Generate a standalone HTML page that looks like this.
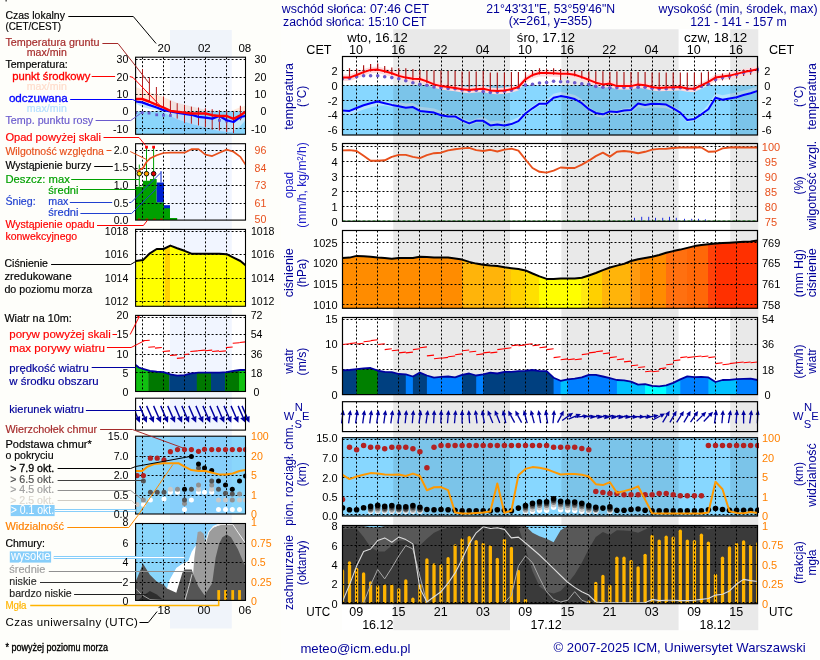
<!DOCTYPE html>
<html><head><meta charset="utf-8"><title>Meteogram</title>
<style>
html,body{margin:0;padding:0;background:#fdfdf6;}
body{width:820px;height:660px;overflow:hidden;}
svg{display:block;will-change:transform;font-family:"Liberation Sans",sans-serif;}
</style></head><body>
<svg width="820" height="660" viewBox="0 0 820 660">
<rect x="0.0" y="0.0" width="820.0" height="660.0" fill="#fefefa" />
<rect x="281.0" y="0.0" width="539.0" height="660.0" fill="#fefefc" />
<rect x="342.0" y="29.0" width="416.3" height="601.3" fill="#ffffff" />
<rect x="342.5" y="85.2" width="415.0" height="49.8" fill="#87d7ff" />
<polygon points="342.5,108.4 349.5,109.9 356.6,107.0 363.6,104.3 370.6,102.2 377.7,100.5 384.7,101.0 391.8,102.7 398.8,102.1 405.8,103.6 412.9,102.9 419.9,106.7 426.9,107.6 434.0,108.4 441.0,111.0 448.1,114.2 455.1,114.2 462.1,118.1 469.2,121.2 476.2,118.6 483.2,117.0 490.3,121.6 497.3,120.8 504.4,121.6 511.4,120.3 518.4,117.3 525.5,111.3 532.5,106.1 539.5,101.5 546.6,99.7 553.6,93.8 560.6,92.1 567.7,93.2 574.7,95.0 581.8,99.2 588.8,107.0 595.8,111.5 602.9,112.8 609.9,109.9 616.9,110.6 624.0,108.4 631.0,107.8 638.1,102.4 645.1,103.7 652.1,102.5 659.2,102.9 666.2,103.4 673.2,106.1 680.3,110.4 687.3,117.8 694.4,116.7 701.4,112.1 708.4,104.6 715.5,93.2 722.5,95.2 729.5,93.8 736.6,92.6 743.6,90.4 750.6,88.7 757.7,86.3 757.7,92.1 750.6,94.5 743.6,96.2 736.6,98.4 729.5,99.6 722.5,101.0 715.5,99.0 708.4,110.4 701.4,116.5 694.4,121.1 687.3,122.2 680.3,114.8 673.2,110.5 666.2,108.2 659.2,107.7 652.1,107.3 645.1,108.5 638.1,107.2 631.0,112.2 624.0,112.8 616.9,115.6 609.9,114.9 602.9,117.8 595.8,116.5 588.8,111.4 581.8,104.4 574.7,100.2 567.7,98.4 560.6,97.3 553.6,99.0 546.6,104.9 539.5,105.9 532.5,110.5 525.5,115.7 518.4,122.6 511.4,125.6 504.4,126.9 497.3,126.1 490.3,126.9 483.2,122.3 476.2,123.0 469.2,125.6 462.1,122.5 455.1,118.6 448.1,118.6 441.0,116.2 434.0,113.6 426.9,112.8 419.9,111.9 412.9,108.1 405.8,108.8 398.8,107.3 391.8,107.1 384.7,105.4 377.7,105.7 370.6,107.4 363.6,109.5 356.6,112.2 349.5,115.1 342.5,112.8" fill="#b6e3fd" />
<rect x="342.5" y="437.7" width="415.0" height="78.3" fill="#87d7ff" />
<rect x="393.2" y="29.2" width="116.8" height="601.0" fill="rgba(0,0,0,0.088)" />
<rect x="561.4" y="29.2" width="117.2" height="601.0" fill="rgba(0,0,0,0.088)" />
<rect x="730.2" y="29.2" width="28.1" height="601.0" fill="rgba(0,0,0,0.088)" />
<clipPath id="cpP"><polygon points="342.5,257.9 349.5,257.6 356.6,255.9 363.6,256.2 370.6,256.7 377.7,257.6 384.7,258.1 391.8,258.8 398.8,258.1 405.8,257.9 412.9,258.1 419.9,256.7 426.9,257.1 434.0,257.6 441.0,257.6 448.1,257.6 455.1,258.4 462.1,259.6 469.2,261.9 476.2,263.6 483.2,264.8 490.3,265.6 497.3,266.1 504.4,267.3 511.4,268.2 518.4,269.0 525.5,270.4 532.5,273.5 539.5,276.4 546.6,278.9 553.6,278.9 560.6,278.6 567.7,278.6 574.7,278.6 581.8,277.7 588.8,275.5 595.8,273.0 602.9,270.1 609.9,267.5 616.9,265.6 624.0,263.9 631.0,261.0 638.1,259.3 645.1,257.9 652.1,256.7 659.2,255.0 666.2,252.8 673.2,251.1 680.3,249.6 687.3,247.9 694.4,246.1 701.4,245.1 708.4,244.3 715.5,243.6 722.5,243.1 729.5,242.7 736.6,242.2 743.6,241.7 750.6,241.4 757.5,240.5 757.5,308.3 342.5,308.3"/></clipPath>
<g clip-path="url(#cpP)">
<rect x="342.5" y="236.0" width="120.1" height="73.0" fill="#ff8c00" />
<rect x="462.0" y="236.0" width="42.6" height="73.0" fill="#ffb40a" />
<rect x="504.0" y="236.0" width="7.6" height="73.0" fill="#ffc208" />
<rect x="511.0" y="236.0" width="14.6" height="73.0" fill="#ffd200" />
<rect x="525.0" y="236.0" width="14.6" height="73.0" fill="#ffe000" />
<rect x="539.0" y="236.0" width="42.6" height="73.0" fill="#ffff00" />
<rect x="581.0" y="236.0" width="8.6" height="73.0" fill="#ffe810" />
<rect x="589.0" y="236.0" width="13.6" height="73.0" fill="#ffd000" />
<rect x="602.0" y="236.0" width="28.6" height="73.0" fill="#ffb40a" />
<rect x="630.0" y="236.0" width="10.6" height="73.0" fill="#ff9a10" />
<rect x="640.0" y="236.0" width="26.6" height="73.0" fill="#ff8c00" />
<rect x="666.0" y="236.0" width="21.6" height="73.0" fill="#ff7010" />
<rect x="687.0" y="236.0" width="21.6" height="73.0" fill="#ff6808" />
<rect x="708.0" y="236.0" width="8.6" height="73.0" fill="#ff4008" />
<rect x="716.0" y="236.0" width="42.1" height="73.0" fill="#ff3000" />
</g>
<polygon points="342.5,370.4 349.5,370.0 356.6,369.2 357.4,369.2 357.4,394.6 342.5,394.6" fill="#004080" />
<polygon points="356.6,369.2 363.6,368.3 370.6,368.0 377.7,370.6 378.5,370.6 378.5,394.6 356.6,394.6" fill="#008000" />
<polygon points="377.7,370.6 384.7,371.8 391.8,372.1 398.8,374.0 405.8,374.3 406.6,374.3 406.6,394.6 377.7,394.6" fill="#004080" />
<polygon points="405.8,374.3 412.9,376.5 413.7,376.5 413.7,394.6 405.8,394.6" fill="#0080ff" />
<polygon points="412.9,376.5 419.9,372.6 426.9,375.5 427.7,375.5 427.7,394.6 412.9,394.6" fill="#004080" />
<polygon points="426.9,375.5 434.0,377.7 441.0,376.9 448.1,376.5 455.1,377.4 462.1,374.8 462.9,374.8 462.9,394.6 426.9,394.6" fill="#0080ff" />
<polygon points="462.1,374.8 469.2,373.5 476.2,375.5 477.0,375.5 477.0,394.6 462.1,394.6" fill="#004080" />
<polygon points="476.2,375.5 483.2,374.3 484.0,374.3 484.0,394.6 476.2,394.6" fill="#0080ff" />
<polygon points="483.2,374.3 490.3,372.6 497.3,373.5 504.4,371.8 511.4,371.8 518.4,371.2 525.5,370.9 532.5,370.0 539.5,371.2 546.6,371.2 553.6,377.7 554.4,377.7 554.4,394.6 483.2,394.6" fill="#004080" />
<polygon points="553.6,377.7 560.6,380.8 561.4,380.8 561.4,394.6 553.6,394.6" fill="#0080ff" />
<polygon points="560.6,380.8 567.7,379.4 568.5,379.4 568.5,394.6 560.6,394.6" fill="#00c0ff" />
<polygon points="567.7,379.4 574.7,378.6 581.8,377.4 588.8,374.8 595.8,374.8 602.9,376.5 609.9,378.2 616.9,380.0 617.7,380.0 617.7,394.6 567.7,394.6" fill="#0080ff" />
<polygon points="616.9,380.0 624.0,380.3 631.0,381.7 638.1,384.6 645.1,384.2 645.9,384.2 645.9,394.6 616.9,394.6" fill="#00c0ff" />
<polygon points="645.1,384.2 652.1,385.9 659.2,386.3 666.2,385.4 667.0,385.4 667.0,394.6 645.1,394.6" fill="#00ffff" />
<polygon points="666.2,385.4 673.2,382.9 680.3,379.4 681.1,379.4 681.1,394.6 666.2,394.6" fill="#00c0ff" />
<polygon points="680.3,379.4 687.3,376.4 694.4,377.2 701.4,376.9 708.4,377.4 709.2,377.4 709.2,394.6 680.3,394.6" fill="#0080ff" />
<polygon points="708.4,377.4 715.5,382.0 722.5,380.0 729.5,379.8 736.6,379.1 737.4,379.1 737.4,394.6 708.4,394.6" fill="#00c0ff" />
<polygon points="736.6,379.1 743.6,378.9 750.6,378.6 757.5,380.0 757.5,380.0 757.5,394.6 736.6,394.6" fill="#0080ff" />
<rect x="342.5" y="525.5" width="415.0" height="78.2" fill="#87d7ff" />
<polygon points="342.5,526.0 349.5,526.0 356.6,526.0 363.6,526.0 370.6,527.2 377.7,527.5 384.7,526.0 391.8,526.0 398.8,526.0 405.8,526.0 412.9,526.0 419.9,526.0 426.9,526.0 434.0,526.0 441.0,526.0 448.1,526.0 455.1,526.0 462.1,526.0 469.2,526.0 476.2,526.0 483.2,526.0 490.3,526.0 497.3,526.0 504.4,526.0 511.4,526.0 518.4,526.0 525.5,526.0 532.5,532.8 539.5,536.2 546.6,538.8 553.6,542.2 560.6,530.2 567.7,526.0 574.7,526.0 581.8,526.0 588.8,526.0 595.8,526.0 602.9,526.0 609.9,526.0 616.9,526.0 624.0,526.0 631.0,526.0 638.1,526.0 645.1,526.0 652.1,526.0 659.2,526.0 666.2,526.0 673.2,526.0 680.3,526.0 687.3,526.0 694.4,526.0 701.4,526.0 708.4,526.0 715.5,526.0 722.5,526.0 729.5,526.0 736.6,526.0 743.6,527.3 750.6,527.3 757.5,526.0 757.5,603.7 342.5,603.7" fill="#585858" />
<polygon points="342.5,529.4 349.5,528.5 356.6,528.5 363.6,537.1 370.6,547.3 377.7,551.6 384.7,551.6 391.8,545.6 398.8,540.5 405.8,540.5 412.9,543.0 419.9,545.6 426.9,538.8 434.0,532.8 441.0,529.4 448.1,527.7 455.1,526.8 462.1,526.8 469.2,526.0 476.2,526.0 483.2,526.0 490.3,526.0 497.3,526.0 504.4,526.0 511.4,526.0 518.4,526.8 525.5,549.0 532.5,571.2 539.5,586.6 546.6,591.7 553.6,593.4 560.6,590.9 567.7,583.2 574.7,574.6 581.8,562.7 588.8,549.0 595.8,537.1 602.9,532.0 609.9,535.0 616.9,530.2 624.0,530.6 631.0,531.1 638.1,532.8 645.1,529.4 652.1,526.0 659.2,526.0 666.2,526.0 673.2,526.0 680.3,526.0 687.3,526.0 694.4,526.0 701.4,526.0 708.4,529.4 715.5,527.7 722.5,526.0 729.5,526.0 736.6,526.0 743.6,526.0 750.6,526.0 757.5,526.0 757.5,603.7 342.5,603.7" fill="#3a3a3a" />
<clipPath id="cp1"><rect x="342.5" y="56.5" width="416.5" height="78.5"/></clipPath>
<g clip-path="url(#cp1)">
<polygon points="342.5,74.6 349.5,74.6 356.6,72.0 363.6,69.1 370.6,66.9 377.7,66.6 384.7,68.3 391.8,70.3 398.8,72.9 405.8,74.6 412.9,75.8 419.9,76.0 426.9,78.4 434.0,81.4 441.0,83.1 448.1,84.0 455.1,84.9 462.1,86.2 469.2,86.9 476.2,86.2 483.2,85.7 490.3,87.4 497.3,87.9 504.4,87.4 511.4,86.2 518.4,84.0 525.5,76.3 532.5,72.0 539.5,70.0 546.6,70.0 553.6,70.3 560.6,70.7 567.7,70.7 574.7,71.7 581.8,74.1 588.8,76.8 595.8,79.7 602.9,81.4 609.9,80.6 616.9,83.1 624.0,83.1 631.0,83.1 638.1,81.4 645.1,82.3 652.1,84.0 659.2,84.9 666.2,84.5 673.2,84.3 680.3,84.0 687.3,85.4 694.4,85.7 701.4,82.3 708.4,78.9 715.5,74.6 722.5,73.4 729.5,72.6 736.6,70.9 743.6,69.1 750.6,67.8 757.7,66.1 757.7,72.5 750.6,74.2 743.6,75.5 736.6,77.3 729.5,79.0 722.5,79.8 715.5,81.0 708.4,85.3 701.4,88.7 694.4,92.1 687.3,91.8 680.3,90.4 673.2,90.7 666.2,90.9 659.2,91.3 652.1,90.4 645.1,88.7 638.1,87.8 631.0,89.5 624.0,89.5 616.9,89.5 609.9,87.0 602.9,87.8 595.8,86.1 588.8,83.2 581.8,80.5 574.7,78.1 567.7,77.1 560.6,77.1 553.6,76.7 546.6,76.4 539.5,76.4 532.5,78.4 525.5,82.7 518.4,90.4 511.4,92.6 504.4,93.8 497.3,94.3 490.3,93.8 483.2,92.1 476.2,92.6 469.2,93.3 462.1,92.6 455.1,91.3 448.1,90.4 441.0,89.5 434.0,87.8 426.9,84.8 419.9,82.4 412.9,82.2 405.8,81.0 398.8,79.3 391.8,76.7 384.7,74.7 377.7,73.0 370.6,73.3 363.6,75.5 356.6,78.4 349.5,81.0 342.5,81.0" fill="#ffdadd" />
</g>
<clipPath id="cp7"><rect x="342.5" y="525.5" width="415.0" height="78.2"/></clipPath>
<g clip-path="url(#cp7)" stroke="#ffb400" stroke-width="3.3" stroke-linecap="round">
<line x1="342.5" y1="571.0" x2="342.5" y2="606.7"/>
<line x1="349.5" y1="563.0" x2="349.5" y2="606.7"/>
<line x1="356.6" y1="569.3" x2="356.6" y2="606.7"/>
<line x1="363.6" y1="573.9" x2="363.6" y2="606.7"/>
<line x1="370.6" y1="583.0" x2="370.6" y2="606.7"/>
<line x1="377.7" y1="586.9" x2="377.7" y2="606.7"/>
<line x1="384.7" y1="586.0" x2="384.7" y2="606.7"/>
<line x1="391.8" y1="586.0" x2="391.8" y2="606.7"/>
<line x1="398.8" y1="589.8" x2="398.8" y2="606.7"/>
<line x1="405.8" y1="580.9" x2="405.8" y2="606.7"/>
<line x1="412.9" y1="599.2" x2="412.9" y2="606.7"/>
<line x1="419.9" y1="585.5" x2="419.9" y2="606.7"/>
<line x1="426.9" y1="559.9" x2="426.9" y2="606.7"/>
<line x1="434.0" y1="565.0" x2="434.0" y2="606.7"/>
<line x1="441.0" y1="565.9" x2="441.0" y2="606.7"/>
<line x1="448.1" y1="558.7" x2="448.1" y2="606.7"/>
<line x1="455.1" y1="545.9" x2="455.1" y2="606.7"/>
<line x1="462.1" y1="539.9" x2="462.1" y2="606.7"/>
<line x1="469.2" y1="537.7" x2="469.2" y2="606.7"/>
<line x1="476.2" y1="541.6" x2="476.2" y2="606.7"/>
<line x1="483.2" y1="544.5" x2="483.2" y2="606.7"/>
<line x1="490.3" y1="546.8" x2="490.3" y2="606.7"/>
<line x1="497.3" y1="559.4" x2="497.3" y2="606.7"/>
<line x1="504.4" y1="540.3" x2="504.4" y2="606.7"/>
<line x1="511.4" y1="548.5" x2="511.4" y2="606.7"/>
<line x1="518.4" y1="571.5" x2="518.4" y2="606.7"/>
<line x1="525.5" y1="600.4" x2="525.5" y2="606.7"/>
<line x1="588.8" y1="602.1" x2="588.8" y2="606.7"/>
<line x1="595.8" y1="583.5" x2="595.8" y2="606.7"/>
<line x1="602.9" y1="576.5" x2="602.9" y2="606.7"/>
<line x1="609.9" y1="586.4" x2="609.9" y2="606.7"/>
<line x1="616.9" y1="558.2" x2="616.9" y2="606.7"/>
<line x1="624.0" y1="558.2" x2="624.0" y2="606.7"/>
<line x1="631.0" y1="561.6" x2="631.0" y2="606.7"/>
<line x1="638.1" y1="567.9" x2="638.1" y2="606.7"/>
<line x1="645.1" y1="555.3" x2="645.1" y2="606.7"/>
<line x1="652.1" y1="536.5" x2="652.1" y2="606.7"/>
<line x1="659.2" y1="541.1" x2="659.2" y2="606.7"/>
<line x1="666.2" y1="537.2" x2="666.2" y2="606.7"/>
<line x1="673.2" y1="538.2" x2="673.2" y2="606.7"/>
<line x1="680.3" y1="531.2" x2="680.3" y2="606.7"/>
<line x1="687.3" y1="541.1" x2="687.3" y2="606.7"/>
<line x1="694.4" y1="541.6" x2="694.4" y2="606.7"/>
<line x1="701.4" y1="535.2" x2="701.4" y2="606.7"/>
<line x1="708.4" y1="543.2" x2="708.4" y2="606.7"/>
<line x1="715.5" y1="575.3" x2="715.5" y2="606.7"/>
<line x1="722.5" y1="558.2" x2="722.5" y2="606.7"/>
<line x1="729.5" y1="548.0" x2="729.5" y2="606.7"/>
<line x1="736.6" y1="544.5" x2="736.6" y2="606.7"/>
<line x1="743.6" y1="542.0" x2="743.6" y2="606.7"/>
<line x1="750.6" y1="546.3" x2="750.6" y2="606.7"/>
<line x1="757.7" y1="543.7" x2="757.7" y2="606.7"/>
</g>
<g stroke="#000" stroke-width="1" stroke-dasharray="2 2">
<line x1="356.5" y1="56.5" x2="356.5" y2="135.0"/>
<line x1="377.5" y1="56.5" x2="377.5" y2="135.0"/>
<line x1="398.5" y1="56.5" x2="398.5" y2="135.0"/>
<line x1="419.5" y1="56.5" x2="419.5" y2="135.0"/>
<line x1="441.5" y1="56.5" x2="441.5" y2="135.0"/>
<line x1="462.5" y1="56.5" x2="462.5" y2="135.0"/>
<line x1="483.5" y1="56.5" x2="483.5" y2="135.0"/>
<line x1="504.5" y1="56.5" x2="504.5" y2="135.0"/>
<line x1="525.5" y1="56.5" x2="525.5" y2="135.0"/>
<line x1="546.5" y1="56.5" x2="546.5" y2="135.0"/>
<line x1="567.5" y1="56.5" x2="567.5" y2="135.0"/>
<line x1="588.5" y1="56.5" x2="588.5" y2="135.0"/>
<line x1="609.5" y1="56.5" x2="609.5" y2="135.0"/>
<line x1="631.5" y1="56.5" x2="631.5" y2="135.0"/>
<line x1="652.5" y1="56.5" x2="652.5" y2="135.0"/>
<line x1="673.5" y1="56.5" x2="673.5" y2="135.0"/>
<line x1="694.5" y1="56.5" x2="694.5" y2="135.0"/>
<line x1="715.5" y1="56.5" x2="715.5" y2="135.0"/>
<line x1="736.5" y1="56.5" x2="736.5" y2="135.0"/>
<line x1="342.5" y1="70.5" x2="757.5" y2="70.5"/>
<line x1="342.5" y1="85.5" x2="757.5" y2="85.5"/>
<line x1="342.5" y1="100.5" x2="757.5" y2="100.5"/>
<line x1="342.5" y1="114.5" x2="757.5" y2="114.5"/>
<line x1="342.5" y1="129.5" x2="757.5" y2="129.5"/>
</g>
<g stroke="#000" stroke-width="1" stroke-dasharray="2 2">
<line x1="356.5" y1="143.5" x2="356.5" y2="221.3"/>
<line x1="377.5" y1="143.5" x2="377.5" y2="221.3"/>
<line x1="398.5" y1="143.5" x2="398.5" y2="221.3"/>
<line x1="419.5" y1="143.5" x2="419.5" y2="221.3"/>
<line x1="441.5" y1="143.5" x2="441.5" y2="221.3"/>
<line x1="462.5" y1="143.5" x2="462.5" y2="221.3"/>
<line x1="483.5" y1="143.5" x2="483.5" y2="221.3"/>
<line x1="504.5" y1="143.5" x2="504.5" y2="221.3"/>
<line x1="525.5" y1="143.5" x2="525.5" y2="221.3"/>
<line x1="546.5" y1="143.5" x2="546.5" y2="221.3"/>
<line x1="567.5" y1="143.5" x2="567.5" y2="221.3"/>
<line x1="588.5" y1="143.5" x2="588.5" y2="221.3"/>
<line x1="609.5" y1="143.5" x2="609.5" y2="221.3"/>
<line x1="631.5" y1="143.5" x2="631.5" y2="221.3"/>
<line x1="652.5" y1="143.5" x2="652.5" y2="221.3"/>
<line x1="673.5" y1="143.5" x2="673.5" y2="221.3"/>
<line x1="694.5" y1="143.5" x2="694.5" y2="221.3"/>
<line x1="715.5" y1="143.5" x2="715.5" y2="221.3"/>
<line x1="736.5" y1="143.5" x2="736.5" y2="221.3"/>
<line x1="342.5" y1="146.5" x2="757.5" y2="146.5"/>
<line x1="342.5" y1="161.5" x2="757.5" y2="161.5"/>
<line x1="342.5" y1="176.5" x2="757.5" y2="176.5"/>
<line x1="342.5" y1="191.5" x2="757.5" y2="191.5"/>
<line x1="342.5" y1="206.5" x2="757.5" y2="206.5"/>
</g>
<g stroke="#000" stroke-width="1" stroke-dasharray="2 2">
<line x1="356.5" y1="230.5" x2="356.5" y2="308.3"/>
<line x1="377.5" y1="230.5" x2="377.5" y2="308.3"/>
<line x1="398.5" y1="230.5" x2="398.5" y2="308.3"/>
<line x1="419.5" y1="230.5" x2="419.5" y2="308.3"/>
<line x1="441.5" y1="230.5" x2="441.5" y2="308.3"/>
<line x1="462.5" y1="230.5" x2="462.5" y2="308.3"/>
<line x1="483.5" y1="230.5" x2="483.5" y2="308.3"/>
<line x1="504.5" y1="230.5" x2="504.5" y2="308.3"/>
<line x1="525.5" y1="230.5" x2="525.5" y2="308.3"/>
<line x1="546.5" y1="230.5" x2="546.5" y2="308.3"/>
<line x1="567.5" y1="230.5" x2="567.5" y2="308.3"/>
<line x1="588.5" y1="230.5" x2="588.5" y2="308.3"/>
<line x1="609.5" y1="230.5" x2="609.5" y2="308.3"/>
<line x1="631.5" y1="230.5" x2="631.5" y2="308.3"/>
<line x1="652.5" y1="230.5" x2="652.5" y2="308.3"/>
<line x1="673.5" y1="230.5" x2="673.5" y2="308.3"/>
<line x1="694.5" y1="230.5" x2="694.5" y2="308.3"/>
<line x1="715.5" y1="230.5" x2="715.5" y2="308.3"/>
<line x1="736.5" y1="230.5" x2="736.5" y2="308.3"/>
<line x1="342.5" y1="242.5" x2="757.5" y2="242.5"/>
<line x1="342.5" y1="263.5" x2="757.5" y2="263.5"/>
<line x1="342.5" y1="284.5" x2="757.5" y2="284.5"/>
<line x1="342.5" y1="304.5" x2="757.5" y2="304.5"/>
</g>
<g stroke="#000" stroke-width="1" stroke-dasharray="2 2">
<line x1="356.5" y1="317.5" x2="356.5" y2="394.6"/>
<line x1="377.5" y1="317.5" x2="377.5" y2="394.6"/>
<line x1="398.5" y1="317.5" x2="398.5" y2="394.6"/>
<line x1="419.5" y1="317.5" x2="419.5" y2="394.6"/>
<line x1="441.5" y1="317.5" x2="441.5" y2="394.6"/>
<line x1="462.5" y1="317.5" x2="462.5" y2="394.6"/>
<line x1="483.5" y1="317.5" x2="483.5" y2="394.6"/>
<line x1="504.5" y1="317.5" x2="504.5" y2="394.6"/>
<line x1="525.5" y1="317.5" x2="525.5" y2="394.6"/>
<line x1="546.5" y1="317.5" x2="546.5" y2="394.6"/>
<line x1="567.5" y1="317.5" x2="567.5" y2="394.6"/>
<line x1="588.5" y1="317.5" x2="588.5" y2="394.6"/>
<line x1="609.5" y1="317.5" x2="609.5" y2="394.6"/>
<line x1="631.5" y1="317.5" x2="631.5" y2="394.6"/>
<line x1="652.5" y1="317.5" x2="652.5" y2="394.6"/>
<line x1="673.5" y1="317.5" x2="673.5" y2="394.6"/>
<line x1="694.5" y1="317.5" x2="694.5" y2="394.6"/>
<line x1="715.5" y1="317.5" x2="715.5" y2="394.6"/>
<line x1="736.5" y1="317.5" x2="736.5" y2="394.6"/>
<line x1="342.5" y1="319.5" x2="757.5" y2="319.5"/>
<line x1="342.5" y1="344.5" x2="757.5" y2="344.5"/>
<line x1="342.5" y1="369.5" x2="757.5" y2="369.5"/>
</g>
<g stroke="#000" stroke-width="1" stroke-dasharray="2 2">
<line x1="356.5" y1="401.7" x2="356.5" y2="431.6"/>
<line x1="377.5" y1="401.7" x2="377.5" y2="431.6"/>
<line x1="398.5" y1="401.7" x2="398.5" y2="431.6"/>
<line x1="419.5" y1="401.7" x2="419.5" y2="431.6"/>
<line x1="441.5" y1="401.7" x2="441.5" y2="431.6"/>
<line x1="462.5" y1="401.7" x2="462.5" y2="431.6"/>
<line x1="483.5" y1="401.7" x2="483.5" y2="431.6"/>
<line x1="504.5" y1="401.7" x2="504.5" y2="431.6"/>
<line x1="525.5" y1="401.7" x2="525.5" y2="431.6"/>
<line x1="546.5" y1="401.7" x2="546.5" y2="431.6"/>
<line x1="567.5" y1="401.7" x2="567.5" y2="431.6"/>
<line x1="588.5" y1="401.7" x2="588.5" y2="431.6"/>
<line x1="609.5" y1="401.7" x2="609.5" y2="431.6"/>
<line x1="631.5" y1="401.7" x2="631.5" y2="431.6"/>
<line x1="652.5" y1="401.7" x2="652.5" y2="431.6"/>
<line x1="673.5" y1="401.7" x2="673.5" y2="431.6"/>
<line x1="694.5" y1="401.7" x2="694.5" y2="431.6"/>
<line x1="715.5" y1="401.7" x2="715.5" y2="431.6"/>
<line x1="736.5" y1="401.7" x2="736.5" y2="431.6"/>
</g>
<g stroke="#000" stroke-width="1" stroke-dasharray="2 2">
<line x1="356.5" y1="437.7" x2="356.5" y2="516.0"/>
<line x1="377.5" y1="437.7" x2="377.5" y2="516.0"/>
<line x1="398.5" y1="437.7" x2="398.5" y2="516.0"/>
<line x1="419.5" y1="437.7" x2="419.5" y2="516.0"/>
<line x1="441.5" y1="437.7" x2="441.5" y2="516.0"/>
<line x1="462.5" y1="437.7" x2="462.5" y2="516.0"/>
<line x1="483.5" y1="437.7" x2="483.5" y2="516.0"/>
<line x1="504.5" y1="437.7" x2="504.5" y2="516.0"/>
<line x1="525.5" y1="437.7" x2="525.5" y2="516.0"/>
<line x1="546.5" y1="437.7" x2="546.5" y2="516.0"/>
<line x1="567.5" y1="437.7" x2="567.5" y2="516.0"/>
<line x1="588.5" y1="437.7" x2="588.5" y2="516.0"/>
<line x1="609.5" y1="437.7" x2="609.5" y2="516.0"/>
<line x1="631.5" y1="437.7" x2="631.5" y2="516.0"/>
<line x1="652.5" y1="437.7" x2="652.5" y2="516.0"/>
<line x1="673.5" y1="437.7" x2="673.5" y2="516.0"/>
<line x1="694.5" y1="437.7" x2="694.5" y2="516.0"/>
<line x1="715.5" y1="437.7" x2="715.5" y2="516.0"/>
<line x1="736.5" y1="437.7" x2="736.5" y2="516.0"/>
<line x1="342.5" y1="439.5" x2="757.5" y2="439.5"/>
<line x1="342.5" y1="457.5" x2="757.5" y2="457.5"/>
<line x1="342.5" y1="477.5" x2="757.5" y2="477.5"/>
<line x1="342.5" y1="496.5" x2="757.5" y2="496.5"/>
<line x1="342.5" y1="514.5" x2="757.5" y2="514.5"/>
</g>
<g stroke="#000" stroke-width="1" stroke-dasharray="2 2">
<line x1="356.5" y1="525.5" x2="356.5" y2="603.7"/>
<line x1="377.5" y1="525.5" x2="377.5" y2="603.7"/>
<line x1="398.5" y1="525.5" x2="398.5" y2="603.7"/>
<line x1="419.5" y1="525.5" x2="419.5" y2="603.7"/>
<line x1="441.5" y1="525.5" x2="441.5" y2="603.7"/>
<line x1="462.5" y1="525.5" x2="462.5" y2="603.7"/>
<line x1="483.5" y1="525.5" x2="483.5" y2="603.7"/>
<line x1="504.5" y1="525.5" x2="504.5" y2="603.7"/>
<line x1="525.5" y1="525.5" x2="525.5" y2="603.7"/>
<line x1="546.5" y1="525.5" x2="546.5" y2="603.7"/>
<line x1="567.5" y1="525.5" x2="567.5" y2="603.7"/>
<line x1="588.5" y1="525.5" x2="588.5" y2="603.7"/>
<line x1="609.5" y1="525.5" x2="609.5" y2="603.7"/>
<line x1="631.5" y1="525.5" x2="631.5" y2="603.7"/>
<line x1="652.5" y1="525.5" x2="652.5" y2="603.7"/>
<line x1="673.5" y1="525.5" x2="673.5" y2="603.7"/>
<line x1="694.5" y1="525.5" x2="694.5" y2="603.7"/>
<line x1="715.5" y1="525.5" x2="715.5" y2="603.7"/>
<line x1="736.5" y1="525.5" x2="736.5" y2="603.7"/>
<line x1="342.5" y1="527.5" x2="757.5" y2="527.5"/>
<line x1="342.5" y1="545.5" x2="757.5" y2="545.5"/>
<line x1="342.5" y1="564.5" x2="757.5" y2="564.5"/>
<line x1="342.5" y1="584.5" x2="757.5" y2="584.5"/>
<line x1="342.5" y1="602.5" x2="757.5" y2="602.5"/>
</g>
<g stroke="#aa1212" stroke-width="1.15">
<line x1="349.5" y1="68.2" x2="349.5" y2="79.1"/>
<line x1="356.6" y1="69.1" x2="356.6" y2="76.5"/>
<line x1="363.6" y1="65.3" x2="363.6" y2="73.6"/>
<line x1="370.6" y1="64.0" x2="370.6" y2="71.4"/>
<line x1="377.7" y1="63.6" x2="377.7" y2="71.1"/>
<line x1="384.7" y1="66.0" x2="384.7" y2="72.8"/>
<line x1="391.8" y1="67.4" x2="391.8" y2="74.8"/>
<line x1="398.8" y1="68.2" x2="398.8" y2="77.4"/>
<line x1="405.8" y1="68.2" x2="405.8" y2="79.1"/>
<line x1="412.9" y1="69.1" x2="412.9" y2="80.3"/>
<line x1="419.9" y1="69.9" x2="419.9" y2="80.5"/>
<line x1="426.9" y1="70.4" x2="426.9" y2="82.9"/>
<line x1="434.0" y1="70.4" x2="434.0" y2="85.9"/>
<line x1="441.0" y1="70.8" x2="441.0" y2="87.6"/>
<line x1="448.1" y1="71.1" x2="448.1" y2="88.5"/>
<line x1="455.1" y1="71.1" x2="455.1" y2="89.4"/>
<line x1="462.1" y1="71.6" x2="462.1" y2="90.7"/>
<line x1="469.2" y1="71.6" x2="469.2" y2="91.4"/>
<line x1="476.2" y1="71.6" x2="476.2" y2="90.7"/>
<line x1="483.2" y1="71.1" x2="483.2" y2="90.2"/>
<line x1="490.3" y1="72.5" x2="490.3" y2="91.9"/>
<line x1="497.3" y1="72.5" x2="497.3" y2="92.4"/>
<line x1="504.4" y1="72.5" x2="504.4" y2="91.9"/>
<line x1="511.4" y1="72.1" x2="511.4" y2="90.7"/>
<line x1="518.4" y1="72.1" x2="518.4" y2="88.5"/>
<line x1="525.5" y1="72.1" x2="525.5" y2="80.8"/>
<line x1="532.5" y1="70.8" x2="532.5" y2="76.5"/>
<line x1="539.5" y1="68.2" x2="539.5" y2="74.5"/>
<line x1="546.6" y1="69.1" x2="546.6" y2="74.5"/>
<line x1="553.6" y1="68.2" x2="553.6" y2="74.8"/>
<line x1="560.6" y1="69.1" x2="560.6" y2="80.0"/>
<line x1="567.7" y1="71.1" x2="567.7" y2="75.2"/>
<line x1="574.7" y1="70.8" x2="574.7" y2="76.2"/>
<line x1="581.8" y1="70.8" x2="581.8" y2="78.6"/>
<line x1="588.8" y1="71.6" x2="588.8" y2="81.3"/>
<line x1="595.8" y1="71.3" x2="595.8" y2="84.2"/>
<line x1="602.9" y1="71.3" x2="602.9" y2="85.9"/>
<line x1="609.9" y1="72.1" x2="609.9" y2="85.1"/>
<line x1="616.9" y1="71.6" x2="616.9" y2="87.6"/>
<line x1="624.0" y1="72.0" x2="624.0" y2="87.6"/>
<line x1="631.0" y1="72.0" x2="631.0" y2="87.6"/>
<line x1="638.1" y1="72.0" x2="638.1" y2="85.9"/>
<line x1="645.1" y1="72.0" x2="645.1" y2="86.8"/>
<line x1="652.1" y1="72.5" x2="652.1" y2="88.5"/>
<line x1="659.2" y1="72.5" x2="659.2" y2="89.4"/>
<line x1="666.2" y1="72.5" x2="666.2" y2="89.0"/>
<line x1="673.2" y1="72.5" x2="673.2" y2="88.8"/>
<line x1="680.3" y1="72.5" x2="680.3" y2="88.5"/>
<line x1="687.3" y1="72.5" x2="687.3" y2="89.9"/>
<line x1="694.4" y1="72.5" x2="694.4" y2="90.2"/>
<line x1="701.4" y1="72.5" x2="701.4" y2="86.8"/>
<line x1="708.4" y1="71.6" x2="708.4" y2="83.4"/>
<line x1="715.5" y1="74.5" x2="715.5" y2="81.6"/>
<line x1="722.5" y1="73.5" x2="722.5" y2="80.4"/>
<line x1="729.5" y1="72.5" x2="729.5" y2="79.6"/>
<line x1="736.6" y1="71.0" x2="736.6" y2="77.9"/>
<line x1="743.6" y1="69.5" x2="743.6" y2="76.1"/>
<line x1="750.6" y1="68.0" x2="750.6" y2="74.8"/>
<line x1="757.7" y1="66.5" x2="757.7" y2="73.1"/>
</g>
<g clip-path="url(#cp1)">
<g fill="#6a5acd">
<circle cx="342.5" cy="78.8" r="1.8"/>
<circle cx="349.5" cy="78.3" r="1.8"/>
<circle cx="356.6" cy="76.7" r="1.8"/>
<circle cx="363.6" cy="75.7" r="1.8"/>
<circle cx="370.6" cy="75.7" r="1.8"/>
<circle cx="377.7" cy="75.7" r="1.8"/>
<circle cx="384.7" cy="76.7" r="1.8"/>
<circle cx="391.8" cy="77.6" r="1.8"/>
<circle cx="398.8" cy="78.8" r="1.8"/>
<circle cx="405.8" cy="80.8" r="1.8"/>
<circle cx="412.9" cy="82.7" r="1.8"/>
<circle cx="419.9" cy="84.2" r="1.8"/>
<circle cx="426.9" cy="85.3" r="1.8"/>
<circle cx="434.0" cy="87.0" r="1.8"/>
<circle cx="441.0" cy="87.8" r="1.8"/>
<circle cx="448.1" cy="88.5" r="1.8"/>
<circle cx="455.1" cy="88.7" r="1.8"/>
<circle cx="462.1" cy="89.9" r="1.8"/>
<circle cx="469.2" cy="90.7" r="1.8"/>
<circle cx="476.2" cy="90.2" r="1.8"/>
<circle cx="483.2" cy="91.6" r="1.8"/>
<circle cx="490.3" cy="92.4" r="1.8"/>
<circle cx="497.3" cy="92.1" r="1.8"/>
<circle cx="504.4" cy="91.2" r="1.8"/>
<circle cx="511.4" cy="90.2" r="1.8"/>
<circle cx="518.4" cy="87.8" r="1.8"/>
<circle cx="525.5" cy="85.1" r="1.8"/>
<circle cx="532.5" cy="84.2" r="1.8"/>
<circle cx="539.5" cy="83.0" r="1.8"/>
<circle cx="546.6" cy="82.5" r="1.8"/>
<circle cx="553.6" cy="81.3" r="1.8"/>
<circle cx="560.6" cy="81.8" r="1.8"/>
<circle cx="567.7" cy="81.8" r="1.8"/>
<circle cx="574.7" cy="82.7" r="1.8"/>
<circle cx="581.8" cy="83.9" r="1.8"/>
<circle cx="588.8" cy="84.2" r="1.8"/>
<circle cx="595.8" cy="86.4" r="1.8"/>
<circle cx="602.9" cy="87.3" r="1.8"/>
<circle cx="609.9" cy="87.8" r="1.8"/>
<circle cx="616.9" cy="87.8" r="1.8"/>
<circle cx="624.0" cy="87.6" r="1.8"/>
<circle cx="631.0" cy="87.8" r="1.8"/>
<circle cx="638.1" cy="87.3" r="1.8"/>
<circle cx="645.1" cy="87.3" r="1.8"/>
<circle cx="652.1" cy="88.2" r="1.8"/>
<circle cx="659.2" cy="89.0" r="1.8"/>
<circle cx="666.2" cy="88.7" r="1.8"/>
<circle cx="673.2" cy="88.2" r="1.8"/>
<circle cx="680.3" cy="87.8" r="1.8"/>
<circle cx="687.3" cy="89.0" r="1.8"/>
<circle cx="694.4" cy="89.0" r="1.8"/>
<circle cx="701.4" cy="86.4" r="1.8"/>
<circle cx="708.4" cy="84.2" r="1.8"/>
<circle cx="715.5" cy="79.6" r="1.8"/>
<circle cx="722.5" cy="77.6" r="1.8"/>
<circle cx="729.5" cy="76.2" r="1.8"/>
<circle cx="736.6" cy="74.5" r="1.8"/>
<circle cx="743.6" cy="72.8" r="1.8"/>
<circle cx="750.6" cy="71.1" r="1.8"/>
<circle cx="757.7" cy="69.7" r="1.8"/>
</g>
<polyline points="342.5,77.6 349.5,77.6 356.6,75.0 363.6,72.1 370.6,69.9 377.7,69.6 384.7,71.3 391.8,73.3 398.8,75.9 405.8,77.6 412.9,78.8 419.9,79.0 426.9,81.4 434.0,84.4 441.0,86.1 448.1,87.0 455.1,87.9 462.1,89.2 469.2,89.9 476.2,89.2 483.2,88.7 490.3,90.4 497.3,90.9 504.4,90.4 511.4,89.2 518.4,87.0 525.5,79.3 532.5,75.0 539.5,73.0 546.6,73.0 553.6,73.3 560.6,73.7 567.7,73.7 574.7,74.7 581.8,77.1 588.8,79.8 595.8,82.7 602.9,84.4 609.9,83.6 616.9,86.1 624.0,86.1 631.0,86.1 638.1,84.4 645.1,85.3 652.1,87.0 659.2,87.9 666.2,87.5 673.2,87.3 680.3,87.0 687.3,88.4 694.4,88.7 701.4,85.3 708.4,81.9 715.5,77.6 722.5,76.4 729.5,75.6 736.6,73.9 743.6,72.1 750.6,70.8 757.7,69.1" fill="none" stroke="#ff0000" stroke-width="2.0" stroke-linejoin="round"/>
<polyline points="342.5,110.6 349.5,110.9 356.6,108.0 363.6,105.3 370.6,103.2 377.7,101.5 384.7,103.2 391.8,104.9 398.8,106.3 405.8,107.8 412.9,107.1 419.9,110.9 426.9,111.8 434.0,112.6 441.0,115.2 448.1,116.4 455.1,116.4 462.1,120.3 469.2,123.4 476.2,120.8 483.2,120.8 490.3,125.4 497.3,124.6 504.4,125.4 511.4,124.1 518.4,121.1 525.5,113.5 532.5,108.3 539.5,103.7 546.6,103.7 553.6,97.8 560.6,96.1 567.7,97.2 574.7,99.0 581.8,103.2 588.8,109.2 595.8,113.0 602.9,114.3 609.9,111.4 616.9,112.1 624.0,110.6 631.0,110.0 638.1,103.6 645.1,104.9 652.1,103.7 659.2,104.1 666.2,104.6 673.2,108.3 680.3,112.6 687.3,120.0 694.4,118.9 701.4,114.3 708.4,109.2 715.5,97.8 722.5,99.8 729.5,98.4 736.6,97.2 743.6,95.0 750.6,93.3 757.7,90.9" fill="none" stroke="#0000ff" stroke-width="2.0" stroke-linejoin="round"/>
</g>
<polyline points="342.5,150.4 349.5,150.1 356.6,151.0 363.6,155.7 370.6,160.7 377.7,160.7 384.7,160.3 391.8,156.9 398.8,154.9 405.8,154.9 412.9,156.9 419.9,158.1 426.9,155.2 434.0,153.2 441.0,152.7 448.1,150.4 455.1,149.2 462.1,148.4 469.2,147.9 476.2,150.1 483.2,151.0 490.3,149.8 497.3,151.5 504.4,149.6 511.4,148.7 518.4,150.6 525.5,159.5 532.5,168.0 539.5,171.8 546.6,172.6 553.6,170.6 560.6,167.5 567.7,168.0 574.7,168.0 581.8,164.6 588.8,160.7 595.8,156.1 602.9,152.7 609.9,156.6 616.9,151.8 624.0,151.0 631.0,151.8 638.1,153.2 645.1,151.8 652.1,149.6 659.2,148.9 666.2,148.7 673.2,148.0 680.3,147.5 687.3,147.5 694.4,147.2 701.4,147.5 708.4,151.8 715.5,151.5 722.5,148.4 729.5,147.5 736.6,147.2 743.6,147.5 750.6,147.5 757.5,147.5" fill="none" stroke="#e8501c" stroke-width="1.9" stroke-linejoin="round"/>
<line x1="342.5" y1="221.0" x2="757.5" y2="221.0" stroke="#00a000" stroke-width="1" stroke-dasharray="3 2"/>
<g stroke="#2030e0" stroke-width="1">
<line x1="634.5" y1="217.8" x2="634.5" y2="220.8"/>
<line x1="641.7" y1="216.8" x2="641.7" y2="220.8"/>
<line x1="648.7" y1="216.8" x2="648.7" y2="220.8"/>
<line x1="655.5" y1="217.8" x2="655.5" y2="220.8"/>
<line x1="662.7" y1="217.8" x2="662.7" y2="220.8"/>
<line x1="669.5" y1="216.8" x2="669.5" y2="220.8"/>
<line x1="676.3" y1="217.8" x2="676.3" y2="220.8"/>
<line x1="684.5" y1="218.8" x2="684.5" y2="220.8"/>
<line x1="691.7" y1="218.8" x2="691.7" y2="220.8"/>
<line x1="698.5" y1="218.8" x2="698.5" y2="220.8"/>
<line x1="705.4" y1="219.3" x2="705.4" y2="220.8"/>
</g>
<polyline points="342.5,257.9 349.5,257.6 356.6,255.9 363.6,256.2 370.6,256.7 377.7,257.6 384.7,258.1 391.8,258.8 398.8,258.1 405.8,257.9 412.9,258.1 419.9,256.7 426.9,257.1 434.0,257.6 441.0,257.6 448.1,257.6 455.1,258.4 462.1,259.6 469.2,261.9 476.2,263.6 483.2,264.8 490.3,265.6 497.3,266.1 504.4,267.3 511.4,268.2 518.4,269.0 525.5,270.4 532.5,273.5 539.5,276.4 546.6,278.9 553.6,278.9 560.6,278.6 567.7,278.6 574.7,278.6 581.8,277.7 588.8,275.5 595.8,273.0 602.9,270.1 609.9,267.5 616.9,265.6 624.0,263.9 631.0,261.0 638.1,259.3 645.1,257.9 652.1,256.7 659.2,255.0 666.2,252.8 673.2,251.1 680.3,249.6 687.3,247.9 694.4,246.1 701.4,245.1 708.4,244.3 715.5,243.6 722.5,243.1 729.5,242.7 736.6,242.2 743.6,241.7 750.6,241.4 757.5,240.5" fill="none" stroke="#000" stroke-width="2" stroke-linejoin="round"/>
<polyline points="342.5,370.4 349.5,370.0 356.6,369.2 363.6,368.3 370.6,368.0 377.7,370.6 384.7,371.8 391.8,372.1 398.8,374.0 405.8,374.3 412.9,376.5 419.9,372.6 426.9,375.5 434.0,377.7 441.0,376.9 448.1,376.5 455.1,377.4 462.1,374.8 469.2,373.5 476.2,375.5 483.2,374.3 490.3,372.6 497.3,373.5 504.4,371.8 511.4,371.8 518.4,371.2 525.5,370.9 532.5,370.0 539.5,371.2 546.6,371.2 553.6,377.7 560.6,380.8 567.7,379.4 574.7,378.6 581.8,377.4 588.8,374.8 595.8,374.8 602.9,376.5 609.9,378.2 616.9,380.0 624.0,380.3 631.0,381.7 638.1,384.6 645.1,384.2 652.1,385.9 659.2,386.3 666.2,385.4 673.2,382.9 680.3,379.4 687.3,376.4 694.4,377.2 701.4,376.9 708.4,377.4 715.5,382.0 722.5,380.0 729.5,379.8 736.6,379.1 743.6,378.9 750.6,378.6 757.5,380.0" fill="none" stroke="#0000a0" stroke-width="1.8" stroke-linejoin="round"/>
<g stroke="#ff0000" stroke-width="1.1">
<line x1="342.5" y1="344.5" x2="349.5" y2="343.7"/>
<line x1="349.5" y1="343.6" x2="356.6" y2="342.8"/>
<line x1="356.6" y1="344.0" x2="363.6" y2="343.2"/>
<line x1="363.6" y1="341.8" x2="370.6" y2="341.0"/>
<line x1="370.6" y1="340.6" x2="377.7" y2="339.8"/>
<line x1="377.7" y1="344.5" x2="384.7" y2="343.7"/>
<line x1="384.7" y1="349.6" x2="391.8" y2="348.8"/>
<line x1="391.8" y1="350.8" x2="398.8" y2="350.0"/>
<line x1="398.8" y1="352.9" x2="405.8" y2="352.1"/>
<line x1="405.8" y1="352.9" x2="412.9" y2="352.1"/>
<line x1="412.9" y1="349.6" x2="419.9" y2="348.8"/>
<line x1="419.9" y1="347.7" x2="426.9" y2="346.9"/>
<line x1="426.9" y1="355.9" x2="434.0" y2="355.1"/>
<line x1="434.0" y1="358.8" x2="441.0" y2="358.0"/>
<line x1="441.0" y1="358.2" x2="448.1" y2="357.4"/>
<line x1="448.1" y1="356.8" x2="455.1" y2="356.0"/>
<line x1="455.1" y1="354.7" x2="462.1" y2="353.9"/>
<line x1="462.1" y1="350.8" x2="469.2" y2="350.0"/>
<line x1="469.2" y1="352.0" x2="476.2" y2="351.2"/>
<line x1="476.2" y1="354.7" x2="483.2" y2="353.9"/>
<line x1="483.2" y1="352.9" x2="490.3" y2="352.1"/>
<line x1="490.3" y1="352.9" x2="497.3" y2="352.1"/>
<line x1="497.3" y1="349.6" x2="504.4" y2="348.8"/>
<line x1="504.4" y1="348.6" x2="511.4" y2="347.8"/>
<line x1="511.4" y1="345.7" x2="518.4" y2="344.9"/>
<line x1="518.4" y1="345.7" x2="525.5" y2="344.9"/>
<line x1="525.5" y1="344.5" x2="532.5" y2="343.7"/>
<line x1="532.5" y1="345.7" x2="539.5" y2="344.9"/>
<line x1="539.5" y1="347.7" x2="546.6" y2="346.9"/>
<line x1="546.6" y1="349.6" x2="553.6" y2="348.8"/>
<line x1="553.6" y1="357.6" x2="560.6" y2="356.8"/>
<line x1="560.6" y1="359.7" x2="567.7" y2="358.9"/>
<line x1="567.7" y1="359.7" x2="574.7" y2="358.9"/>
<line x1="574.7" y1="359.7" x2="581.8" y2="358.9"/>
<line x1="581.8" y1="354.6" x2="588.8" y2="353.8"/>
<line x1="588.8" y1="352.9" x2="595.8" y2="352.1"/>
<line x1="595.8" y1="351.7" x2="602.9" y2="350.9"/>
<line x1="602.9" y1="353.7" x2="609.9" y2="352.9"/>
<line x1="609.9" y1="357.6" x2="616.9" y2="356.8"/>
<line x1="616.9" y1="359.7" x2="624.0" y2="358.9"/>
<line x1="624.0" y1="361.9" x2="631.0" y2="361.1"/>
<line x1="631.0" y1="365.8" x2="638.1" y2="365.0"/>
<line x1="638.1" y1="367.5" x2="645.1" y2="366.7"/>
<line x1="645.1" y1="371.8" x2="652.1" y2="371.0"/>
<line x1="652.1" y1="371.8" x2="659.2" y2="371.0"/>
<line x1="659.2" y1="368.7" x2="666.2" y2="367.9"/>
<line x1="666.2" y1="364.8" x2="673.2" y2="364.0"/>
<line x1="673.2" y1="360.7" x2="680.3" y2="359.9"/>
<line x1="680.3" y1="357.6" x2="687.3" y2="356.8"/>
<line x1="687.3" y1="357.6" x2="694.4" y2="356.8"/>
<line x1="694.4" y1="356.8" x2="701.4" y2="356.0"/>
<line x1="701.4" y1="356.8" x2="708.4" y2="356.0"/>
<line x1="708.4" y1="357.6" x2="715.5" y2="356.8"/>
<line x1="715.5" y1="363.6" x2="722.5" y2="362.8"/>
<line x1="722.5" y1="364.8" x2="729.5" y2="364.0"/>
<line x1="729.5" y1="363.6" x2="736.6" y2="362.8"/>
<line x1="736.6" y1="362.8" x2="743.6" y2="362.0"/>
<line x1="743.6" y1="362.8" x2="750.6" y2="362.0"/>
<line x1="750.6" y1="362.8" x2="757.5" y2="362.0"/>
</g>
<clipPath id="cp5"><rect x="336.5" y="402.0" width="423.0" height="29.5"/></clipPath>
<g clip-path="url(#cp5)">
<line x1="341.6" y1="423.3" x2="342.7" y2="414.9" stroke="#0000a0" stroke-width="1.3"/>
<polygon points="343.4,409.9 345.0,415.2 340.5,414.5" fill="#0000a0"/>
<line x1="348.6" y1="423.3" x2="349.8" y2="414.9" stroke="#0000a0" stroke-width="1.3"/>
<polygon points="350.5,409.9 352.1,415.2 347.5,414.5" fill="#0000a0"/>
<line x1="355.6" y1="423.3" x2="356.8" y2="414.9" stroke="#0000a0" stroke-width="1.3"/>
<polygon points="357.5,409.9 359.1,415.2 354.5,414.5" fill="#0000a0"/>
<line x1="362.7" y1="423.3" x2="363.9" y2="414.9" stroke="#0000a0" stroke-width="1.3"/>
<polygon points="364.6,409.9 366.1,415.2 361.6,414.5" fill="#0000a0"/>
<line x1="369.7" y1="423.3" x2="370.9" y2="414.9" stroke="#0000a0" stroke-width="1.3"/>
<polygon points="371.6,409.9 373.2,415.2 368.6,414.5" fill="#0000a0"/>
<line x1="376.7" y1="423.3" x2="377.9" y2="414.9" stroke="#0000a0" stroke-width="1.3"/>
<polygon points="378.6,409.9 380.2,415.2 375.7,414.5" fill="#0000a0"/>
<line x1="383.8" y1="423.3" x2="385.0" y2="414.9" stroke="#0000a0" stroke-width="1.3"/>
<polygon points="385.7,409.9 387.2,415.2 382.7,414.5" fill="#0000a0"/>
<line x1="390.8" y1="423.3" x2="392.0" y2="414.9" stroke="#0000a0" stroke-width="1.3"/>
<polygon points="392.7,409.9 394.3,415.2 389.7,414.5" fill="#0000a0"/>
<line x1="397.9" y1="423.3" x2="399.0" y2="414.9" stroke="#0000a0" stroke-width="1.3"/>
<polygon points="399.7,409.9 401.3,415.2 396.8,414.5" fill="#0000a0"/>
<line x1="405.2" y1="423.3" x2="406.0" y2="414.9" stroke="#0000a0" stroke-width="1.3"/>
<polygon points="406.4,409.9 408.3,415.1 403.7,414.7" fill="#0000a0"/>
<line x1="412.3" y1="423.3" x2="413.0" y2="414.9" stroke="#0000a0" stroke-width="1.3"/>
<polygon points="413.5,409.9 415.3,415.1 410.7,414.7" fill="#0000a0"/>
<line x1="419.0" y1="423.3" x2="420.2" y2="414.9" stroke="#0000a0" stroke-width="1.3"/>
<polygon points="420.8,409.9 422.4,415.2 417.9,414.5" fill="#0000a0"/>
<line x1="426.0" y1="423.3" x2="427.2" y2="414.9" stroke="#0000a0" stroke-width="1.3"/>
<polygon points="427.9,409.9 429.5,415.2 424.9,414.5" fill="#0000a0"/>
<line x1="433.6" y1="423.3" x2="434.1" y2="414.9" stroke="#0000a0" stroke-width="1.3"/>
<polygon points="434.3,409.9 436.4,415.0 431.8,414.7" fill="#0000a0"/>
<line x1="440.8" y1="423.3" x2="441.1" y2="414.9" stroke="#0000a0" stroke-width="1.3"/>
<polygon points="441.3,409.9 443.4,414.9 438.8,414.8" fill="#0000a0"/>
<line x1="447.5" y1="423.3" x2="448.2" y2="414.9" stroke="#0000a0" stroke-width="1.3"/>
<polygon points="448.6,409.9 450.5,415.1 445.9,414.7" fill="#0000a0"/>
<line x1="454.5" y1="423.3" x2="455.2" y2="414.9" stroke="#0000a0" stroke-width="1.3"/>
<polygon points="455.7,409.9 457.5,415.1 453.0,414.7" fill="#0000a0"/>
<line x1="462.1" y1="423.4" x2="462.1" y2="414.9" stroke="#0000a0" stroke-width="1.3"/>
<polygon points="462.1,409.9 464.4,414.9 459.8,414.9" fill="#0000a0"/>
<line x1="469.6" y1="423.3" x2="469.0" y2="414.9" stroke="#0000a0" stroke-width="1.3"/>
<polygon points="468.7,409.9 471.3,414.7 466.7,415.0" fill="#0000a0"/>
<line x1="477.0" y1="423.3" x2="476.0" y2="414.9" stroke="#0000a0" stroke-width="1.3"/>
<polygon points="475.4,409.9 478.3,414.6 473.7,415.1" fill="#0000a0"/>
<line x1="484.4" y1="423.2" x2="482.9" y2="414.9" stroke="#0000a0" stroke-width="1.3"/>
<polygon points="482.1,410.0 485.2,414.5 480.7,415.3" fill="#0000a0"/>
<line x1="492.8" y1="422.9" x2="489.6" y2="415.0" stroke="#0000a0" stroke-width="1.3"/>
<polygon points="487.7,410.3 491.8,414.1 487.5,415.8" fill="#0000a0"/>
<line x1="499.8" y1="422.9" x2="496.7" y2="415.0" stroke="#0000a0" stroke-width="1.3"/>
<polygon points="494.8,410.3 498.8,414.1 494.5,415.8" fill="#0000a0"/>
<line x1="505.8" y1="423.2" x2="504.0" y2="414.9" stroke="#0000a0" stroke-width="1.3"/>
<polygon points="502.9,410.0 506.2,414.4 501.7,415.4" fill="#0000a0"/>
<line x1="514.6" y1="422.6" x2="510.6" y2="415.1" stroke="#0000a0" stroke-width="1.3"/>
<polygon points="508.2,410.6 512.6,414.0 508.5,416.1" fill="#0000a0"/>
<line x1="521.6" y1="422.6" x2="517.6" y2="415.1" stroke="#0000a0" stroke-width="1.3"/>
<polygon points="515.3,410.6 519.6,414.0 515.6,416.1" fill="#0000a0"/>
<line x1="527.2" y1="423.1" x2="525.0" y2="414.9" stroke="#0000a0" stroke-width="1.3"/>
<polygon points="523.7,410.1 527.2,414.3 522.8,415.5" fill="#0000a0"/>
<line x1="534.2" y1="423.1" x2="532.0" y2="414.9" stroke="#0000a0" stroke-width="1.3"/>
<polygon points="530.8,410.1 534.3,414.3 529.8,415.5" fill="#0000a0"/>
<line x1="540.7" y1="423.2" x2="539.2" y2="414.9" stroke="#0000a0" stroke-width="1.3"/>
<polygon points="538.4,410.0 541.5,414.5 537.0,415.3" fill="#0000a0"/>
<line x1="547.6" y1="423.3" x2="546.3" y2="414.9" stroke="#0000a0" stroke-width="1.3"/>
<polygon points="545.5,409.9 548.6,414.5 544.0,415.2" fill="#0000a0"/>
<line x1="553.0" y1="423.3" x2="553.8" y2="414.9" stroke="#0000a0" stroke-width="1.3"/>
<polygon points="554.2,409.9 556.1,415.1 551.5,414.7" fill="#0000a0"/>
<line x1="557.5" y1="422.6" x2="561.5" y2="415.1" stroke="#0000a0" stroke-width="1.3"/>
<polygon points="563.8,410.6 563.5,416.1 559.4,414.0" fill="#0000a0"/>
<line x1="562.2" y1="420.5" x2="569.1" y2="415.6" stroke="#0000a0" stroke-width="1.3"/>
<polygon points="573.2,412.7 570.4,417.5 567.8,413.7" fill="#0000a0"/>
<line x1="568.5" y1="419.1" x2="576.3" y2="415.9" stroke="#0000a0" stroke-width="1.3"/>
<polygon points="581.0,414.1 577.2,418.1 575.5,413.8" fill="#0000a0"/>
<line x1="575.0" y1="417.2" x2="583.5" y2="416.4" stroke="#0000a0" stroke-width="1.3"/>
<polygon points="588.5,416.0 583.7,418.7 583.3,414.2" fill="#0000a0"/>
<line x1="582.1" y1="416.0" x2="590.5" y2="416.8" stroke="#0000a0" stroke-width="1.3"/>
<polygon points="595.5,417.2 590.3,419.0 590.7,414.5" fill="#0000a0"/>
<line x1="589.1" y1="415.7" x2="597.6" y2="416.8" stroke="#0000a0" stroke-width="1.3"/>
<polygon points="602.5,417.5 597.2,419.1 597.9,414.6" fill="#0000a0"/>
<line x1="596.2" y1="415.4" x2="604.6" y2="416.9" stroke="#0000a0" stroke-width="1.3"/>
<polygon points="609.5,417.8 604.2,419.2 605.0,414.6" fill="#0000a0"/>
<line x1="603.3" y1="415.4" x2="611.6" y2="416.9" stroke="#0000a0" stroke-width="1.3"/>
<polygon points="616.6,417.8 611.2,419.2 612.0,414.6" fill="#0000a0"/>
<line x1="610.3" y1="415.4" x2="618.7" y2="416.9" stroke="#0000a0" stroke-width="1.3"/>
<polygon points="623.6,417.8 618.3,419.2 619.1,414.6" fill="#0000a0"/>
<line x1="617.3" y1="415.7" x2="625.7" y2="416.8" stroke="#0000a0" stroke-width="1.3"/>
<polygon points="630.7,417.5 625.4,419.1 626.0,414.6" fill="#0000a0"/>
<line x1="624.3" y1="416.0" x2="632.8" y2="416.8" stroke="#0000a0" stroke-width="1.3"/>
<polygon points="637.7,417.2 632.6,419.0 633.0,414.5" fill="#0000a0"/>
<line x1="631.3" y1="416.4" x2="639.8" y2="416.7" stroke="#0000a0" stroke-width="1.3"/>
<polygon points="644.8,416.8 639.7,419.0 639.9,414.4" fill="#0000a0"/>
<line x1="638.3" y1="416.8" x2="646.8" y2="416.5" stroke="#0000a0" stroke-width="1.3"/>
<polygon points="651.8,416.4 646.9,418.8 646.8,414.2" fill="#0000a0"/>
<line x1="645.5" y1="418.0" x2="653.8" y2="416.2" stroke="#0000a0" stroke-width="1.3"/>
<polygon points="658.7,415.2 654.3,418.5 653.4,414.0" fill="#0000a0"/>
<line x1="653.2" y1="419.8" x2="660.7" y2="415.8" stroke="#0000a0" stroke-width="1.3"/>
<polygon points="665.1,413.4 661.8,417.8 659.6,413.7" fill="#0000a0"/>
<line x1="662.7" y1="422.4" x2="667.1" y2="415.1" stroke="#0000a0" stroke-width="1.3"/>
<polygon points="669.7,410.8 669.1,416.3 665.1,413.9" fill="#0000a0"/>
<line x1="669.9" y1="422.4" x2="674.1" y2="415.1" stroke="#0000a0" stroke-width="1.3"/>
<polygon points="676.6,410.8 676.1,416.2 672.1,413.9" fill="#0000a0"/>
<line x1="676.7" y1="422.3" x2="681.2" y2="415.1" stroke="#0000a0" stroke-width="1.3"/>
<polygon points="683.9,410.9 683.2,416.3 679.3,413.9" fill="#0000a0"/>
<line x1="683.9" y1="422.4" x2="688.2" y2="415.1" stroke="#0000a0" stroke-width="1.3"/>
<polygon points="690.7,410.8 690.2,416.2 686.2,413.9" fill="#0000a0"/>
<line x1="690.5" y1="422.1" x2="695.4" y2="415.2" stroke="#0000a0" stroke-width="1.3"/>
<polygon points="698.2,411.1 697.2,416.5 693.5,413.8" fill="#0000a0"/>
<line x1="696.6" y1="421.4" x2="702.6" y2="415.4" stroke="#0000a0" stroke-width="1.3"/>
<polygon points="706.2,411.8 704.3,417.0 701.0,413.7" fill="#0000a0"/>
<line x1="703.8" y1="421.5" x2="709.6" y2="415.3" stroke="#0000a0" stroke-width="1.3"/>
<polygon points="713.0,411.7 711.3,416.9 707.9,413.8" fill="#0000a0"/>
<line x1="714.5" y1="423.3" x2="715.7" y2="414.9" stroke="#0000a0" stroke-width="1.3"/>
<polygon points="716.4,409.9 718.0,415.2 713.4,414.5" fill="#0000a0"/>
<line x1="721.9" y1="423.3" x2="722.7" y2="414.9" stroke="#0000a0" stroke-width="1.3"/>
<polygon points="723.1,409.9 724.9,415.1 720.4,414.7" fill="#0000a0"/>
<line x1="728.4" y1="423.2" x2="729.8" y2="414.9" stroke="#0000a0" stroke-width="1.3"/>
<polygon points="730.7,410.0 732.1,415.3 727.6,414.5" fill="#0000a0"/>
<line x1="736.0" y1="423.3" x2="736.7" y2="414.9" stroke="#0000a0" stroke-width="1.3"/>
<polygon points="737.2,409.9 739.0,415.1 734.4,414.7" fill="#0000a0"/>
<line x1="743.6" y1="423.4" x2="743.6" y2="414.9" stroke="#0000a0" stroke-width="1.3"/>
<polygon points="743.6,409.9 745.9,414.9 741.3,414.9" fill="#0000a0"/>
<line x1="749.7" y1="423.3" x2="750.9" y2="414.9" stroke="#0000a0" stroke-width="1.3"/>
<polygon points="751.6,409.9 753.2,415.2 748.6,414.5" fill="#0000a0"/>
<line x1="757.3" y1="423.3" x2="757.8" y2="414.9" stroke="#0000a0" stroke-width="1.3"/>
<polygon points="758.0,409.9 760.1,415.0 755.5,414.7" fill="#0000a0"/>
</g>
<clipPath id="cp6"><rect x="342.5" y="437.7" width="416.5" height="78.3"/></clipPath>
<g clip-path="url(#cp6)">
<circle cx="342.5" cy="507.8" r="2.8" fill="#000"/>
<circle cx="349.5" cy="509.8" r="2.8" fill="#000"/>
<circle cx="356.6" cy="509.8" r="2.8" fill="#000"/>
<circle cx="363.6" cy="507.8" r="2.8" fill="#000"/>
<circle cx="370.6" cy="511.2" r="2.7" fill="#ffffff"/>
<circle cx="370.6" cy="510.5" r="2.7" fill="#c8c8c8"/>
<circle cx="370.6" cy="509.5" r="2.7" fill="#808080"/>
<circle cx="370.6" cy="508.2" r="2.7" fill="#404040"/>
<circle cx="370.6" cy="506.4" r="2.8" fill="#000"/>
<circle cx="377.7" cy="511.2" r="2.7" fill="#ffffff"/>
<circle cx="377.7" cy="510.5" r="2.7" fill="#c8c8c8"/>
<circle cx="377.7" cy="508.7" r="2.7" fill="#808080"/>
<circle cx="377.7" cy="507.0" r="2.7" fill="#404040"/>
<circle cx="377.7" cy="505.2" r="2.8" fill="#000"/>
<circle cx="384.7" cy="511.2" r="2.7" fill="#ffffff"/>
<circle cx="384.7" cy="510.5" r="2.7" fill="#c8c8c8"/>
<circle cx="384.7" cy="509.5" r="2.7" fill="#808080"/>
<circle cx="384.7" cy="508.2" r="2.7" fill="#404040"/>
<circle cx="384.7" cy="506.4" r="2.8" fill="#000"/>
<circle cx="391.8" cy="511.2" r="2.7" fill="#ffffff"/>
<circle cx="391.8" cy="510.5" r="2.7" fill="#c8c8c8"/>
<circle cx="391.8" cy="509.1" r="2.7" fill="#808080"/>
<circle cx="391.8" cy="507.4" r="2.7" fill="#404040"/>
<circle cx="391.8" cy="505.6" r="2.8" fill="#000"/>
<circle cx="398.8" cy="511.2" r="2.7" fill="#ffffff"/>
<circle cx="398.8" cy="510.5" r="2.7" fill="#c8c8c8"/>
<circle cx="398.8" cy="509.5" r="2.7" fill="#808080"/>
<circle cx="398.8" cy="508.7" r="2.7" fill="#404040"/>
<circle cx="398.8" cy="506.9" r="2.8" fill="#000"/>
<circle cx="405.8" cy="511.2" r="2.7" fill="#ffffff"/>
<circle cx="405.8" cy="510.5" r="2.7" fill="#c8c8c8"/>
<circle cx="405.8" cy="509.5" r="2.7" fill="#808080"/>
<circle cx="405.8" cy="508.7" r="2.7" fill="#404040"/>
<circle cx="405.8" cy="506.9" r="2.8" fill="#000"/>
<circle cx="412.9" cy="511.2" r="2.7" fill="#ffffff"/>
<circle cx="412.9" cy="510.5" r="2.7" fill="#c8c8c8"/>
<circle cx="412.9" cy="509.1" r="2.7" fill="#808080"/>
<circle cx="412.9" cy="507.4" r="2.7" fill="#404040"/>
<circle cx="412.9" cy="505.6" r="2.8" fill="#000"/>
<circle cx="419.9" cy="511.2" r="2.7" fill="#ffffff"/>
<circle cx="419.9" cy="510.5" r="2.7" fill="#c8c8c8"/>
<circle cx="419.9" cy="509.5" r="2.7" fill="#808080"/>
<circle cx="419.9" cy="509.0" r="2.7" fill="#404040"/>
<circle cx="419.9" cy="507.3" r="2.8" fill="#000"/>
<circle cx="426.9" cy="509.5" r="2.8" fill="#000"/>
<circle cx="434.0" cy="509.8" r="2.8" fill="#000"/>
<circle cx="441.0" cy="509.5" r="2.8" fill="#000"/>
<circle cx="448.1" cy="509.8" r="2.8" fill="#000"/>
<circle cx="455.1" cy="510.3" r="2.8" fill="#000"/>
<circle cx="462.1" cy="510.7" r="2.8" fill="#000"/>
<circle cx="469.2" cy="510.7" r="2.8" fill="#000"/>
<circle cx="476.2" cy="510.7" r="2.8" fill="#000"/>
<circle cx="483.2" cy="510.7" r="2.8" fill="#000"/>
<circle cx="490.3" cy="510.7" r="2.8" fill="#000"/>
<circle cx="497.3" cy="509.8" r="2.8" fill="#000"/>
<circle cx="504.4" cy="510.3" r="2.8" fill="#000"/>
<circle cx="511.4" cy="510.7" r="2.8" fill="#000"/>
<circle cx="518.4" cy="508.1" r="2.8" fill="#000"/>
<circle cx="525.5" cy="511.2" r="2.7" fill="#ffffff"/>
<circle cx="525.5" cy="510.5" r="2.7" fill="#c8c8c8"/>
<circle cx="525.5" cy="509.1" r="2.7" fill="#808080"/>
<circle cx="525.5" cy="507.4" r="2.7" fill="#404040"/>
<circle cx="525.5" cy="505.6" r="2.8" fill="#000"/>
<circle cx="532.5" cy="511.2" r="2.7" fill="#ffffff"/>
<circle cx="532.5" cy="509.3" r="2.7" fill="#c8c8c8"/>
<circle cx="532.5" cy="506.8" r="2.7" fill="#808080"/>
<circle cx="532.5" cy="505.1" r="2.7" fill="#404040"/>
<circle cx="532.5" cy="503.3" r="2.8" fill="#000"/>
<circle cx="539.5" cy="510.3" r="2.7" fill="#ffffff"/>
<circle cx="539.5" cy="507.8" r="2.7" fill="#c8c8c8"/>
<circle cx="539.5" cy="505.3" r="2.7" fill="#808080"/>
<circle cx="539.5" cy="503.6" r="2.7" fill="#404040"/>
<circle cx="539.5" cy="501.8" r="2.8" fill="#000"/>
<circle cx="546.6" cy="510.3" r="2.7" fill="#ffffff"/>
<circle cx="546.6" cy="507.8" r="2.7" fill="#c8c8c8"/>
<circle cx="546.6" cy="505.3" r="2.7" fill="#808080"/>
<circle cx="546.6" cy="503.6" r="2.7" fill="#404040"/>
<circle cx="546.6" cy="501.8" r="2.8" fill="#000"/>
<circle cx="553.6" cy="507.2" r="2.7" fill="#ffffff"/>
<circle cx="553.6" cy="504.7" r="2.7" fill="#c8c8c8"/>
<circle cx="553.6" cy="502.2" r="2.7" fill="#808080"/>
<circle cx="553.6" cy="500.5" r="2.7" fill="#404040"/>
<circle cx="553.6" cy="498.7" r="2.8" fill="#000"/>
<circle cx="560.6" cy="509.8" r="2.7" fill="#ffffff"/>
<circle cx="560.6" cy="507.3" r="2.7" fill="#c8c8c8"/>
<circle cx="560.6" cy="504.8" r="2.7" fill="#808080"/>
<circle cx="560.6" cy="503.1" r="2.7" fill="#404040"/>
<circle cx="560.6" cy="501.3" r="2.8" fill="#000"/>
<circle cx="567.7" cy="510.3" r="2.7" fill="#ffffff"/>
<circle cx="567.7" cy="507.8" r="2.7" fill="#c8c8c8"/>
<circle cx="567.7" cy="505.3" r="2.7" fill="#808080"/>
<circle cx="567.7" cy="503.6" r="2.7" fill="#404040"/>
<circle cx="567.7" cy="501.8" r="2.8" fill="#000"/>
<circle cx="574.7" cy="510.6" r="2.7" fill="#ffffff"/>
<circle cx="574.7" cy="508.1" r="2.7" fill="#c8c8c8"/>
<circle cx="574.7" cy="505.6" r="2.7" fill="#808080"/>
<circle cx="574.7" cy="503.9" r="2.7" fill="#404040"/>
<circle cx="574.7" cy="502.1" r="2.8" fill="#000"/>
<circle cx="581.8" cy="511.2" r="2.7" fill="#ffffff"/>
<circle cx="581.8" cy="509.3" r="2.7" fill="#c8c8c8"/>
<circle cx="581.8" cy="506.8" r="2.7" fill="#808080"/>
<circle cx="581.8" cy="505.1" r="2.7" fill="#404040"/>
<circle cx="581.8" cy="503.3" r="2.8" fill="#000"/>
<circle cx="588.8" cy="511.2" r="2.7" fill="#ffffff"/>
<circle cx="588.8" cy="510.5" r="2.7" fill="#c8c8c8"/>
<circle cx="588.8" cy="509.1" r="2.7" fill="#808080"/>
<circle cx="588.8" cy="507.4" r="2.7" fill="#404040"/>
<circle cx="588.8" cy="505.6" r="2.8" fill="#000"/>
<circle cx="595.8" cy="511.2" r="2.7" fill="#ffffff"/>
<circle cx="595.8" cy="510.5" r="2.7" fill="#c8c8c8"/>
<circle cx="595.8" cy="509.5" r="2.7" fill="#808080"/>
<circle cx="595.8" cy="509.0" r="2.7" fill="#404040"/>
<circle cx="595.8" cy="507.3" r="2.8" fill="#000"/>
<circle cx="602.9" cy="508.1" r="2.8" fill="#000"/>
<circle cx="609.9" cy="511.2" r="2.7" fill="#ffffff"/>
<circle cx="609.9" cy="510.5" r="2.7" fill="#c8c8c8"/>
<circle cx="609.9" cy="509.5" r="2.7" fill="#808080"/>
<circle cx="609.9" cy="508.7" r="2.7" fill="#404040"/>
<circle cx="609.9" cy="506.9" r="2.8" fill="#000"/>
<circle cx="616.9" cy="510.3" r="2.8" fill="#000"/>
<circle cx="624.0" cy="510.3" r="2.8" fill="#000"/>
<circle cx="631.0" cy="509.5" r="2.8" fill="#000"/>
<circle cx="638.1" cy="509.0" r="2.8" fill="#000"/>
<circle cx="645.1" cy="510.2" r="2.8" fill="#000"/>
<circle cx="652.1" cy="510.7" r="2.8" fill="#000"/>
<circle cx="659.2" cy="510.7" r="2.8" fill="#000"/>
<circle cx="666.2" cy="510.7" r="2.8" fill="#000"/>
<circle cx="673.2" cy="510.7" r="2.8" fill="#000"/>
<circle cx="680.3" cy="510.7" r="2.8" fill="#000"/>
<circle cx="687.3" cy="510.7" r="2.8" fill="#000"/>
<circle cx="694.4" cy="510.7" r="2.8" fill="#000"/>
<circle cx="701.4" cy="510.7" r="2.8" fill="#000"/>
<circle cx="708.4" cy="509.8" r="2.8" fill="#000"/>
<circle cx="715.5" cy="508.5" r="2.8" fill="#000"/>
<circle cx="722.5" cy="509.5" r="2.8" fill="#000"/>
<circle cx="729.5" cy="510.3" r="2.8" fill="#000"/>
<circle cx="736.6" cy="510.2" r="2.8" fill="#000"/>
<circle cx="743.6" cy="510.2" r="2.8" fill="#000"/>
<circle cx="750.6" cy="510.2" r="2.8" fill="#000"/>
<circle cx="757.7" cy="510.2" r="2.8" fill="#000"/>
<circle cx="342.5" cy="499.6" r="2.75" fill="#b22222"/>
<circle cx="349.5" cy="447.2" r="2.75" fill="#b22222"/>
<circle cx="356.6" cy="449.7" r="2.75" fill="#b22222"/>
<circle cx="363.6" cy="445.5" r="2.75" fill="#b22222"/>
<circle cx="370.6" cy="447.2" r="2.75" fill="#b22222"/>
<circle cx="377.7" cy="447.2" r="2.75" fill="#b22222"/>
<circle cx="384.7" cy="448.7" r="2.75" fill="#b22222"/>
<circle cx="391.8" cy="447.2" r="2.75" fill="#b22222"/>
<circle cx="398.8" cy="447.2" r="2.75" fill="#b22222"/>
<circle cx="405.8" cy="447.2" r="2.75" fill="#b22222"/>
<circle cx="412.9" cy="448.7" r="2.75" fill="#b22222"/>
<circle cx="419.9" cy="451.8" r="2.75" fill="#b22222"/>
<circle cx="426.9" cy="467.7" r="2.75" fill="#b22222"/>
<circle cx="434.0" cy="447.2" r="2.75" fill="#b22222"/>
<circle cx="441.0" cy="445.5" r="2.75" fill="#b22222"/>
<circle cx="448.1" cy="445.5" r="2.75" fill="#b22222"/>
<circle cx="455.1" cy="445.5" r="2.75" fill="#b22222"/>
<circle cx="462.1" cy="445.5" r="2.75" fill="#b22222"/>
<circle cx="469.2" cy="445.5" r="2.75" fill="#b22222"/>
<circle cx="476.2" cy="445.5" r="2.75" fill="#b22222"/>
<circle cx="483.2" cy="445.5" r="2.75" fill="#b22222"/>
<circle cx="490.3" cy="445.5" r="2.75" fill="#b22222"/>
<circle cx="497.3" cy="445.5" r="2.75" fill="#b22222"/>
<circle cx="504.4" cy="445.5" r="2.75" fill="#b22222"/>
<circle cx="511.4" cy="445.5" r="2.75" fill="#b22222"/>
<circle cx="518.4" cy="445.5" r="2.75" fill="#b22222"/>
<circle cx="525.5" cy="445.5" r="2.75" fill="#b22222"/>
<circle cx="532.5" cy="445.5" r="2.75" fill="#b22222"/>
<circle cx="539.5" cy="445.5" r="2.75" fill="#b22222"/>
<circle cx="546.6" cy="445.5" r="2.75" fill="#b22222"/>
<circle cx="553.6" cy="447.2" r="2.75" fill="#b22222"/>
<circle cx="560.6" cy="447.2" r="2.75" fill="#b22222"/>
<circle cx="567.7" cy="447.2" r="2.75" fill="#b22222"/>
<circle cx="574.7" cy="447.2" r="2.75" fill="#b22222"/>
<circle cx="581.8" cy="448.4" r="2.75" fill="#b22222"/>
<circle cx="588.8" cy="449.7" r="2.75" fill="#b22222"/>
<circle cx="595.8" cy="491.6" r="2.75" fill="#b22222"/>
<circle cx="602.9" cy="492.4" r="2.75" fill="#b22222"/>
<circle cx="609.9" cy="493.6" r="2.75" fill="#b22222"/>
<circle cx="616.9" cy="493.6" r="2.75" fill="#b22222"/>
<circle cx="624.0" cy="494.8" r="2.75" fill="#b22222"/>
<circle cx="631.0" cy="494.8" r="2.75" fill="#b22222"/>
<circle cx="638.1" cy="494.8" r="2.75" fill="#b22222"/>
<circle cx="645.1" cy="494.8" r="2.75" fill="#b22222"/>
<circle cx="652.1" cy="494.8" r="2.75" fill="#b22222"/>
<circle cx="659.2" cy="493.6" r="2.75" fill="#b22222"/>
<circle cx="666.2" cy="493.6" r="2.75" fill="#b22222"/>
<circle cx="673.2" cy="494.8" r="2.75" fill="#b22222"/>
<circle cx="680.3" cy="495.8" r="2.75" fill="#b22222"/>
<circle cx="687.3" cy="495.8" r="2.75" fill="#b22222"/>
<circle cx="694.4" cy="495.8" r="2.75" fill="#b22222"/>
<circle cx="701.4" cy="495.8" r="2.75" fill="#b22222"/>
<circle cx="708.4" cy="445.5" r="2.75" fill="#b22222"/>
<circle cx="715.5" cy="445.5" r="2.75" fill="#b22222"/>
<circle cx="722.5" cy="445.5" r="2.75" fill="#b22222"/>
<circle cx="729.5" cy="445.5" r="2.75" fill="#b22222"/>
<circle cx="736.6" cy="445.5" r="2.75" fill="#b22222"/>
<circle cx="743.6" cy="445.5" r="2.75" fill="#b22222"/>
<circle cx="750.6" cy="445.5" r="2.75" fill="#b22222"/>
<circle cx="757.7" cy="445.5" r="2.75" fill="#b22222"/>
<polyline points="342.5,474.8 349.5,479.1 356.6,476.5 363.6,474.8 370.6,473.1 377.7,473.6 384.7,474.5 391.8,474.8 398.8,474.5 405.8,476.0 412.9,473.6 419.9,476.0 426.9,490.2 434.0,487.3 441.0,487.1 448.1,490.2 455.1,512.4 462.1,513.6 469.2,513.6 476.2,512.9 483.2,512.4 490.3,511.5 497.3,483.4 504.4,512.9 511.4,510.7 518.4,475.3 525.5,468.9 532.5,467.1 539.5,467.7 546.6,469.2 553.6,471.9 560.6,474.5 567.7,474.0 574.7,474.0 581.8,474.8 588.8,476.5 595.8,484.2 602.9,485.1 609.9,482.2 616.9,492.8 624.0,491.1 631.0,489.3 638.1,486.3 645.1,499.6 652.1,513.2 659.2,513.6 666.2,513.6 673.2,513.6 680.3,513.6 687.3,513.6 694.4,513.6 701.4,513.6 708.4,512.4 715.5,481.7 722.5,489.3 729.5,511.2 736.6,512.9 743.6,513.2 750.6,512.0 757.7,512.9" fill="none" stroke="#ff9900" stroke-width="2" stroke-linejoin="round"/>
</g>
<g clip-path="url(#cp7)">
<polyline points="363.6,603.0 370.6,584.9 377.7,569.5 384.7,578.9 391.8,567.8 398.8,555.9 405.8,545.6 412.9,549.0 419.9,576.3 426.9,603.0" fill="none" stroke="#a8a8a8" stroke-width="1"/>
<polyline points="504.4,603.0 511.4,595.1 518.4,566.1 525.5,555.9 532.5,562.7 539.5,578.0 546.6,591.7 553.6,599.4 560.6,602.0 567.7,600.2 574.7,591.7 581.8,600.2 588.8,603.0" fill="none" stroke="#a8a8a8" stroke-width="1"/>
<polyline points="342.5,601.6 349.5,584.9 356.6,566.1 363.6,551.6 370.6,549.0 377.7,540.5 384.7,537.9 391.8,542.2 398.8,537.1 405.8,539.6 412.9,543.9 419.9,588.3 426.9,602.0 434.0,596.8 441.0,591.7 448.1,583.2 455.1,572.9 462.1,559.3 469.2,543.9 476.2,532.8 483.2,526.8 490.3,528.5 497.3,527.7 504.4,529.4 511.4,537.9 518.4,537.1 525.5,543.0 532.5,549.0 539.5,555.0 546.6,561.8 553.6,568.7 560.6,575.5 567.7,582.3 574.7,587.4 581.8,591.7 588.8,595.1 595.8,602.0 602.9,602.8 609.9,602.8 616.9,602.8 624.0,602.8 631.0,602.8 638.1,602.8 645.1,602.8 652.1,599.4 659.2,600.6 666.2,600.2 673.2,600.2 680.3,600.6 687.3,600.6 694.4,600.2 701.4,599.4 708.4,598.5 715.5,595.1 722.5,594.3 729.5,590.9 736.6,584.0 743.6,579.4 750.6,580.6 757.7,581.5" fill="none" stroke="#dcdcdc" stroke-width="1.1" stroke-linejoin="round"/>
</g>
<rect x="342.5" y="56.5" width="415.0" height="78.5" fill="none" stroke="#000" stroke-width="1.2"/>
<rect x="342.5" y="143.5" width="415.0" height="77.8" fill="none" stroke="#000" stroke-width="1.2"/>
<rect x="342.5" y="230.5" width="415.0" height="77.8" fill="none" stroke="#000" stroke-width="1.2"/>
<rect x="342.5" y="317.5" width="415.0" height="77.1" fill="none" stroke="#000" stroke-width="1.2"/>
<rect x="342.5" y="401.7" width="415.0" height="29.9" fill="none" stroke="#000" stroke-width="1.2"/>
<rect x="342.5" y="437.7" width="415.0" height="78.3" fill="none" stroke="#000" stroke-width="1.2"/>
<rect x="342.5" y="525.5" width="415.0" height="78.2" fill="none" stroke="#000" stroke-width="1.2"/>
<rect x="135.6" y="57.2" width="109.9" height="77.1" fill="#ffffff" />
<rect x="135.6" y="143.7" width="109.9" height="76.4" fill="#ffffff" />
<rect x="135.6" y="229.4" width="109.9" height="76.9" fill="#ffffff" />
<rect x="135.6" y="315.4" width="109.9" height="76.1" fill="#ffffff" />
<rect x="135.6" y="398.2" width="109.9" height="31.9" fill="#ffffff" />
<rect x="135.6" y="436.2" width="109.9" height="77.8" fill="#ffffff" />
<rect x="135.6" y="523.5" width="109.9" height="76.9" fill="#ffffff" />
<clipPath id="lc1"><rect x="135.6" y="57.2" width="109.9" height="77.1"/></clipPath>
<g clip-path="url(#lc1)">
<polygon points="135.7,87.0 149.0,92.1 162.7,96.7 176.3,102.4 191.7,106.6 205.4,109.7 219.0,110.9 231.0,110.9 239.5,107.5 245.5,105.8 245.5,113.5 240.4,116.9 233.5,120.3 226.7,117.7 219.4,117.7 205.4,115.5 191.4,115.2 177.2,113.8 170.4,112.6 163.5,109.2 156.7,106.6 149.0,103.2 135.7,100.7" fill="#ffe9dc" />
<rect x="135.6" y="111.4" width="109.9" height="22.9" fill="#8ad6fb" />
<polygon points="135.7,100.7 142.2,101.5 149.0,104.1 156.7,106.6 163.5,109.2 170.4,110.9 177.2,112.1 184.5,113.1 191.4,114.1 198.5,115.5 205.4,116.9 212.2,117.7 219.4,115.5 226.7,118.9 233.5,120.3 240.4,116.5 245.5,115.2 245.5,120.3 239.5,127.1 231.0,132.2 219.0,130.9 205.4,127.5 191.7,124.1 176.3,118.9 162.7,112.1 142.2,107.0 135.7,103.6" fill="#c3e6fb" />
</g>
<rect x="135.6" y="436.2" width="109.9" height="77.8" fill="#8ad6fb" />
<rect x="135.6" y="523.5" width="109.9" height="76.9" fill="#8ad6fb" />
<clipPath id="lc7"><rect x="135.6" y="523.5" width="109.9" height="76.9"/></clipPath>
<rect x="170.0" y="30.0" width="61.8" height="598.5" fill="rgba(110,150,255,0.095)" />
<g clip-path="url(#lc7)">
<polygon points="164.7,600.4 167.0,588.4 169.5,579.9 176.3,567.9 182.3,563.7 188.3,561.1 191.7,551.7 195.1,546.6 198.5,544.4 205.4,543.2 208.8,532.1 213.1,526.1 219.0,523.5 245.5,523.5 245.5,600.4" fill="#ffffff" />
<polygon points="192.6,600.4 193.1,574.8 194.3,557.7 197.7,532.1 200.6,531.2 203.7,533.8 205.4,543.2 208.8,532.1 213.1,527.8 219.0,525.2 225.9,524.4 232.7,523.9 245.5,523.9 245.5,600.4" fill="#9c9c9c" />
<polygon points="135.7,581.6 143.0,563.7 149.9,574.8 156.7,581.6 164.0,585.0 167.0,588.4 176.3,592.7 182.3,573.1 184.5,569.6 191.7,569.6 193.4,574.8 198.5,586.7 204.5,595.2 212.2,583.3 215.6,557.7 219.0,544.0 222.4,537.2 226.7,534.6 231.0,537.2 237.8,549.1 242.9,561.1 245.5,566.2 245.5,600.4 135.7,600.4" fill="#555555" />
<polygon points="137.9,600.4 143.9,595.2 149.9,591.0 156.7,594.4 162.7,599.5 163.5,600.4" fill="#2e2e2e" />
<polyline points="135.7,588.4 141.3,594.4 149.9,599.5 164.4,600.4" fill="none" stroke="#b0b0b0" stroke-width="0.9"/>
<polyline points="184.9,600.4 188.3,588.4 192.1,573.9" fill="none" stroke="#d8d8d8" stroke-width="0.9"/>
<polyline points="205.4,543.2 208.8,532.1 213.1,527.0 220.7,524.4 232.7,524.4 237.8,532.1 245.5,543.2" fill="none" stroke="#f0f0f0" stroke-width="1"/>
</g>
<rect x="217.3" y="590.1" width="2.8" height="10.3" fill="#ffb400" />
<rect x="224.1" y="590.1" width="2.8" height="10.3" fill="#ffb400" />
<rect x="231.3" y="590.1" width="2.8" height="10.3" fill="#ffb400" />
<rect x="238.1" y="590.1" width="2.8" height="10.3" fill="#ffb400" />
<polygon points="135.7,261.0 143.0,260.1 149.9,253.3 156.7,249.0 163.5,249.0 170.4,245.6 177.2,248.2 184.5,250.8 191.4,253.7 198.5,253.7 205.4,253.7 212.2,253.7 219.4,253.7 226.7,254.2 233.5,257.6 240.4,261.0 245.5,265.3 245.5,306.3 135.6,306.3" fill="#ffff00" />
<clipPath id="lc3"><polygon points="135.7,261.0 143.0,260.1 149.9,253.3 156.7,249.0 163.5,249.0 170.4,245.6 177.2,248.2 184.5,250.8 191.4,253.7 198.5,253.7 205.4,253.7 212.2,253.7 219.4,253.7 226.7,254.2 233.5,257.6 240.4,261.0 245.5,265.3 245.5,306.3 135.6,306.3"/></clipPath>
<rect x="164.7" y="235" width="5.3" height="72" fill="#ffd200" clip-path="url(#lc3)"/>
<clipPath id="lc4"><polygon points="135.7,364.9 138.8,367.5 143.0,368.8 149.9,370.9 156.7,371.7 163.5,372.2 170.4,374.3 177.2,375.7 184.5,375.1 191.4,373.4 198.5,372.6 205.4,372.6 212.2,372.6 219.4,372.6 226.7,372.2 233.5,370.9 240.4,370.0 245.5,370.0 245.5,391.5 135.6,391.5"/></clipPath>
<g clip-path="url(#lc4)">
<rect x="135.6" y="360.0" width="12.9" height="32.0" fill="#10c010" />
<rect x="148.2" y="360.0" width="21.3" height="32.0" fill="#007800" />
<rect x="169.2" y="360.0" width="27.9" height="32.0" fill="#004080" />
<rect x="196.8" y="360.0" width="14.5" height="32.0" fill="#007800" />
<rect x="211.0" y="360.0" width="14.3" height="32.0" fill="#004080" />
<rect x="225.0" y="360.0" width="14.3" height="32.0" fill="#007800" />
<rect x="239.0" y="360.0" width="6.8" height="32.0" fill="#10c010" />
</g>
<polygon points="135.7,220.1 135.7,186.8 143.0,186.8 143.0,180.8 149.9,180.8 149.9,179.1 156.7,179.1 156.7,202.2 164.0,202.2 164.0,208.1 170.0,208.1 170.0,217.9 177.2,217.9 177.2,220.1" fill="#00a000" />
<rect x="156.7" y="182.5" width="7.3" height="19.8" fill="#0020d0" />
<rect x="164.0" y="205.2" width="6.0" height="3.1" fill="#0020d0" />
<g stroke="#000" stroke-width="1" stroke-dasharray="2 2">
<line x1="142.5" y1="57.2" x2="142.5" y2="134.3"/>
<line x1="163.5" y1="57.2" x2="163.5" y2="134.3"/>
<line x1="184.5" y1="57.2" x2="184.5" y2="134.3"/>
<line x1="205.5" y1="57.2" x2="205.5" y2="134.3"/>
<line x1="226.5" y1="57.2" x2="226.5" y2="134.3"/>
<line x1="135.6" y1="59.5" x2="245.5" y2="59.5"/>
<line x1="135.6" y1="77.5" x2="245.5" y2="77.5"/>
<line x1="135.6" y1="94.5" x2="245.5" y2="94.5"/>
<line x1="135.6" y1="111.5" x2="245.5" y2="111.5"/>
<line x1="135.6" y1="128.5" x2="245.5" y2="128.5"/>
</g>
<g stroke="#000" stroke-width="1" stroke-dasharray="2 2">
<line x1="142.5" y1="143.7" x2="142.5" y2="220.1"/>
<line x1="163.5" y1="143.7" x2="163.5" y2="220.1"/>
<line x1="184.5" y1="143.7" x2="184.5" y2="220.1"/>
<line x1="205.5" y1="143.7" x2="205.5" y2="220.1"/>
<line x1="226.5" y1="143.7" x2="226.5" y2="220.1"/>
<line x1="135.6" y1="150.5" x2="245.5" y2="150.5"/>
<line x1="135.6" y1="168.5" x2="245.5" y2="168.5"/>
<line x1="135.6" y1="185.5" x2="245.5" y2="185.5"/>
<line x1="135.6" y1="203.5" x2="245.5" y2="203.5"/>
</g>
<g stroke="#000" stroke-width="1" stroke-dasharray="2 2">
<line x1="142.5" y1="229.4" x2="142.5" y2="306.3"/>
<line x1="163.5" y1="229.4" x2="163.5" y2="306.3"/>
<line x1="184.5" y1="229.4" x2="184.5" y2="306.3"/>
<line x1="205.5" y1="229.4" x2="205.5" y2="306.3"/>
<line x1="226.5" y1="229.4" x2="226.5" y2="306.3"/>
<line x1="135.6" y1="231.5" x2="245.5" y2="231.5"/>
<line x1="135.6" y1="254.5" x2="245.5" y2="254.5"/>
<line x1="135.6" y1="278.5" x2="245.5" y2="278.5"/>
<line x1="135.6" y1="301.5" x2="245.5" y2="301.5"/>
</g>
<g stroke="#000" stroke-width="1" stroke-dasharray="2 2">
<line x1="142.5" y1="315.4" x2="142.5" y2="391.5"/>
<line x1="163.5" y1="315.4" x2="163.5" y2="391.5"/>
<line x1="184.5" y1="315.4" x2="184.5" y2="391.5"/>
<line x1="205.5" y1="315.4" x2="205.5" y2="391.5"/>
<line x1="226.5" y1="315.4" x2="226.5" y2="391.5"/>
<line x1="135.6" y1="317.5" x2="245.5" y2="317.5"/>
<line x1="135.6" y1="334.5" x2="245.5" y2="334.5"/>
<line x1="135.6" y1="354.5" x2="245.5" y2="354.5"/>
<line x1="135.6" y1="372.5" x2="245.5" y2="372.5"/>
</g>
<g stroke="#000" stroke-width="1" stroke-dasharray="2 2">
<line x1="142.5" y1="398.2" x2="142.5" y2="430.1"/>
<line x1="163.5" y1="398.2" x2="163.5" y2="430.1"/>
<line x1="184.5" y1="398.2" x2="184.5" y2="430.1"/>
<line x1="205.5" y1="398.2" x2="205.5" y2="430.1"/>
<line x1="226.5" y1="398.2" x2="226.5" y2="430.1"/>
</g>
<g stroke="#000" stroke-width="1" stroke-dasharray="2 2">
<line x1="142.5" y1="436.2" x2="142.5" y2="514.0"/>
<line x1="163.5" y1="436.2" x2="163.5" y2="514.0"/>
<line x1="184.5" y1="436.2" x2="184.5" y2="514.0"/>
<line x1="205.5" y1="436.2" x2="205.5" y2="514.0"/>
<line x1="226.5" y1="436.2" x2="226.5" y2="514.0"/>
<line x1="135.6" y1="456.5" x2="245.5" y2="456.5"/>
<line x1="135.6" y1="475.5" x2="245.5" y2="475.5"/>
<line x1="135.6" y1="495.5" x2="245.5" y2="495.5"/>
</g>
<g stroke="#000" stroke-width="1" stroke-dasharray="2 2">
<line x1="142.5" y1="523.5" x2="142.5" y2="600.4"/>
<line x1="163.5" y1="523.5" x2="163.5" y2="600.4"/>
<line x1="184.5" y1="523.5" x2="184.5" y2="600.4"/>
<line x1="205.5" y1="523.5" x2="205.5" y2="600.4"/>
<line x1="226.5" y1="523.5" x2="226.5" y2="600.4"/>
<line x1="135.6" y1="543.5" x2="245.5" y2="543.5"/>
<line x1="135.6" y1="562.5" x2="245.5" y2="562.5"/>
<line x1="135.6" y1="582.5" x2="245.5" y2="582.5"/>
</g>
<g clip-path="url(#lc1)">
<g stroke="#b41a1a" stroke-width="1">
<line x1="142.5" y1="69.1" x2="142.5" y2="98.1"/>
<line x1="149.4" y1="77.6" x2="149.4" y2="101.5"/>
<line x1="156.4" y1="87.0" x2="156.4" y2="104.9"/>
<line x1="163.5" y1="96.4" x2="163.5" y2="108.3"/>
<line x1="170.4" y1="100.7" x2="170.4" y2="114.3"/>
<line x1="177.2" y1="103.2" x2="177.2" y2="118.6"/>
<line x1="184.5" y1="104.9" x2="184.5" y2="122.9"/>
<line x1="191.4" y1="106.6" x2="191.4" y2="123.7"/>
<line x1="198.5" y1="107.5" x2="198.5" y2="125.4"/>
<line x1="205.4" y1="108.3" x2="205.4" y2="127.1"/>
<line x1="212.2" y1="109.2" x2="212.2" y2="129.7"/>
<line x1="219.4" y1="110.1" x2="219.4" y2="130.5"/>
<line x1="226.7" y1="110.9" x2="226.7" y2="132.2"/>
<line x1="233.5" y1="111.8" x2="233.5" y2="133.1"/>
<line x1="240.4" y1="105.8" x2="240.4" y2="120.3"/>
</g>
<rect x="134.3" y="111.2" width="2.8" height="2.8" fill="#6a5acd" />
<rect x="140.8" y="111.2" width="2.8" height="2.8" fill="#6a5acd" />
<rect x="147.6" y="111.7" width="2.8" height="2.8" fill="#6a5acd" />
<rect x="155.3" y="113.4" width="2.8" height="2.8" fill="#6a5acd" />
<rect x="162.1" y="113.8" width="2.8" height="2.8" fill="#6a5acd" />
<rect x="169.0" y="114.1" width="2.8" height="2.8" fill="#6a5acd" />
<rect x="218.0" y="118.9" width="2.8" height="2.8" fill="#6a5acd" />
<rect x="225.3" y="119.7" width="2.8" height="2.8" fill="#6a5acd" />
<rect x="239.0" y="116.3" width="2.8" height="2.8" fill="#6a5acd" />
<polyline points="135.7,101.5 142.2,102.4 149.0,104.9 156.7,107.5 163.5,110.1 170.4,111.4 177.2,112.6 184.5,113.8 191.4,114.8 198.5,116.9 205.4,117.7 212.2,118.6 219.4,116.0 226.7,120.3 233.5,122.0 240.4,116.9 245.5,116.0" fill="none" stroke="#0000ff" stroke-width="2.2" stroke-linejoin="round"/>
<polyline points="135.7,99.0 142.2,99.0 149.0,101.5 156.7,104.9 163.5,107.5 170.4,110.9 177.2,111.8 184.5,112.6 191.4,113.5 198.5,113.5 205.4,113.5 212.2,115.2 219.4,116.0 226.7,116.0 233.5,118.9 240.4,115.2 245.5,111.8" fill="none" stroke="#ff0000" stroke-width="2.4" stroke-linejoin="round"/>
</g>
<line x1="139.3" y1="164.6" x2="139.3" y2="186.8" stroke="#00a000" stroke-width="1" />
<line x1="146.5" y1="147.5" x2="146.5" y2="180.8" stroke="#00a000" stroke-width="1" />
<line x1="153.6" y1="147.5" x2="153.6" y2="179.1" stroke="#00a000" stroke-width="1" />
<line x1="161.0" y1="171.1" x2="161.0" y2="182.5" stroke="#0020d0" stroke-width="1" />
<rect x="145.1" y="145.8" width="2.8" height="2.8" fill="#ff0000" />
<rect x="152.2" y="145.8" width="2.8" height="2.8" fill="#ff0000" />
<circle cx="139.3" cy="173.7" r="2.3" fill="#ffe000" stroke="#000" stroke-width="0.9"/>
<circle cx="146.5" cy="173.7" r="2.3" fill="#ffa000" stroke="#000" stroke-width="0.9"/>
<circle cx="153.6" cy="173.7" r="2.3" fill="#e00000" stroke="#000" stroke-width="0.9"/>
<line x1="137.9" y1="219.2" x2="140.5" y2="219.2" stroke="#ff0000" stroke-width="1.2" />
<line x1="145.6" y1="219.2" x2="148.2" y2="219.2" stroke="#ff0000" stroke-width="1.2" />
<line x1="153.3" y1="219.2" x2="155.9" y2="219.2" stroke="#ff0000" stroke-width="1.2" />
<line x1="160.1" y1="219.2" x2="162.7" y2="219.2" stroke="#ff0000" stroke-width="1.2" />
<polyline points="137.1,171.4 143.0,168.0 146.5,162.0 149.9,158.6 156.7,155.2 163.5,153.0 170.4,152.7 177.2,152.7 184.5,152.7 191.4,149.2 198.5,149.2 205.4,154.7 212.2,156.1 219.4,152.7 226.7,149.6 233.5,151.8 240.4,156.9 245.5,164.6" fill="none" stroke="#e8501c" stroke-width="1.7" stroke-linejoin="round"/>
<polyline points="135.7,261.0 143.0,260.1 149.9,253.3 156.7,249.0 163.5,249.0 170.4,245.6 177.2,248.2 184.5,250.8 191.4,253.7 198.5,253.7 205.4,253.7 212.2,253.7 219.4,253.7 226.7,254.2 233.5,257.6 240.4,261.0 245.5,265.3" fill="none" stroke="#000" stroke-width="2" stroke-linejoin="round"/>
<polyline points="135.7,364.9 138.8,367.5 143.0,368.8 149.9,370.9 156.7,371.7 163.5,372.2 170.4,374.3 177.2,375.7 184.5,375.1 191.4,373.4 198.5,372.6 205.4,372.6 212.2,372.6 219.4,372.6 226.7,372.2 233.5,370.9 240.4,370.0 245.5,370.0" fill="none" stroke="#0000a0" stroke-width="1.8" stroke-linejoin="round"/>
<line x1="142.7" y1="340.8" x2="149.7" y2="340.2" stroke="#ff0000" stroke-width="1.1" />
<line x1="148.2" y1="347.3" x2="155.0" y2="346.7" stroke="#ff0000" stroke-width="1.1" />
<line x1="155.0" y1="348.1" x2="161.8" y2="347.5" stroke="#ff0000" stroke-width="1.1" />
<line x1="162.7" y1="351.5" x2="170.0" y2="350.9" stroke="#ff0000" stroke-width="1.1" />
<line x1="170.0" y1="355.5" x2="176.9" y2="354.9" stroke="#ff0000" stroke-width="1.1" />
<line x1="176.9" y1="358.4" x2="184.5" y2="357.8" stroke="#ff0000" stroke-width="1.1" />
<line x1="184.5" y1="354.6" x2="189.1" y2="354.0" stroke="#ff0000" stroke-width="1.1" />
<line x1="190.3" y1="351.5" x2="197.7" y2="350.9" stroke="#ff0000" stroke-width="1.1" />
<line x1="197.7" y1="350.7" x2="204.9" y2="350.1" stroke="#ff0000" stroke-width="1.1" />
<line x1="204.9" y1="350.7" x2="212.2" y2="350.1" stroke="#ff0000" stroke-width="1.1" />
<line x1="212.2" y1="351.5" x2="219.0" y2="350.9" stroke="#ff0000" stroke-width="1.1" />
<line x1="219.0" y1="351.5" x2="225.9" y2="350.9" stroke="#ff0000" stroke-width="1.1" />
<line x1="225.9" y1="347.6" x2="232.7" y2="347.0" stroke="#ff0000" stroke-width="1.1" />
<line x1="232.7" y1="343.3" x2="239.5" y2="342.7" stroke="#ff0000" stroke-width="1.1" />
<line x1="239.5" y1="342.5" x2="245.5" y2="341.9" stroke="#ff0000" stroke-width="1.1" />
<circle cx="138.4" cy="316.8" r="1.2" fill="#ff0000"/>
<clipPath id="lc5"><rect x="135.6" y="398.7" width="121.9" height="31.0"/></clipPath>
<g clip-path="url(#lc5)">
<line x1="132.5" y1="405.9" x2="137.4" y2="417.1" stroke="#0000a0" stroke-width="1.4"/>
<polygon points="139.9,422.7 134.6,418.2 140.1,415.9" fill="#0000a0"/>
<line x1="139.6" y1="405.9" x2="144.4" y2="417.1" stroke="#0000a0" stroke-width="1.4"/>
<polygon points="146.9,422.7 141.7,418.2 147.2,415.9" fill="#0000a0"/>
<line x1="146.6" y1="405.9" x2="151.5" y2="417.1" stroke="#0000a0" stroke-width="1.4"/>
<polygon points="153.9,422.7 148.7,418.2 154.2,415.9" fill="#0000a0"/>
<line x1="153.6" y1="405.9" x2="158.5" y2="417.1" stroke="#0000a0" stroke-width="1.4"/>
<polygon points="161.0,422.7 155.8,418.2 161.3,415.9" fill="#0000a0"/>
<line x1="160.7" y1="405.9" x2="165.5" y2="417.1" stroke="#0000a0" stroke-width="1.4"/>
<polygon points="168.0,422.7 162.8,418.2 168.3,415.9" fill="#0000a0"/>
<line x1="167.7" y1="405.9" x2="172.6" y2="417.1" stroke="#0000a0" stroke-width="1.4"/>
<polygon points="175.1,422.7 169.8,418.2 175.3,415.9" fill="#0000a0"/>
<line x1="174.8" y1="405.9" x2="179.6" y2="417.1" stroke="#0000a0" stroke-width="1.4"/>
<polygon points="182.1,422.7 176.9,418.2 182.4,415.9" fill="#0000a0"/>
<line x1="181.8" y1="405.9" x2="186.7" y2="417.1" stroke="#0000a0" stroke-width="1.4"/>
<polygon points="189.1,422.7 183.9,418.2 189.4,415.9" fill="#0000a0"/>
<line x1="188.8" y1="405.9" x2="193.7" y2="417.1" stroke="#0000a0" stroke-width="1.4"/>
<polygon points="196.2,422.7 190.9,418.2 196.4,415.9" fill="#0000a0"/>
<line x1="195.9" y1="405.9" x2="200.7" y2="417.1" stroke="#0000a0" stroke-width="1.4"/>
<polygon points="203.2,422.7 198.0,418.2 203.5,415.9" fill="#0000a0"/>
<line x1="202.9" y1="405.9" x2="207.8" y2="417.1" stroke="#0000a0" stroke-width="1.4"/>
<polygon points="210.2,422.7 205.0,418.2 210.5,415.9" fill="#0000a0"/>
<line x1="209.9" y1="405.9" x2="214.8" y2="417.1" stroke="#0000a0" stroke-width="1.4"/>
<polygon points="217.3,422.7 212.1,418.2 217.6,415.9" fill="#0000a0"/>
<line x1="217.0" y1="405.9" x2="221.8" y2="417.1" stroke="#0000a0" stroke-width="1.4"/>
<polygon points="224.3,422.7 219.1,418.2 224.6,415.9" fill="#0000a0"/>
<line x1="224.0" y1="405.9" x2="228.9" y2="417.1" stroke="#0000a0" stroke-width="1.4"/>
<polygon points="231.3,422.7 226.1,418.2 231.6,415.9" fill="#0000a0"/>
<line x1="231.0" y1="405.9" x2="235.9" y2="417.1" stroke="#0000a0" stroke-width="1.4"/>
<polygon points="238.4,422.7 233.2,418.2 238.7,415.9" fill="#0000a0"/>
<line x1="238.1" y1="405.9" x2="243.0" y2="417.1" stroke="#0000a0" stroke-width="1.4"/>
<polygon points="245.4,422.7 240.2,418.2 245.7,415.9" fill="#0000a0"/>
<line x1="242.0" y1="405.9" x2="246.9" y2="417.1" stroke="#0000a0" stroke-width="1.4"/>
<polygon points="249.4,422.7 244.1,418.2 249.6,415.9" fill="#0000a0"/>
</g>
<clipPath id="lc6"><rect x="135.6" y="436.2" width="110.5" height="77.8"/></clipPath>
<g clip-path="url(#lc6)">
<circle cx="143.4" cy="504.6" r="2.5" fill="#ffffff"/>
<circle cx="150.4" cy="500.0" r="2.5" fill="#ffffff"/>
<circle cx="164.0" cy="499.1" r="2.5" fill="#ffffff"/>
<circle cx="170.4" cy="492.3" r="2.5" fill="#ffffff"/>
<circle cx="177.5" cy="492.3" r="2.5" fill="#ffffff"/>
<circle cx="184.5" cy="509.4" r="2.5" fill="#ffffff"/>
<circle cx="191.4" cy="500.0" r="2.5" fill="#ffffff"/>
<circle cx="198.5" cy="492.3" r="2.5" fill="#ffffff"/>
<circle cx="204.5" cy="492.3" r="2.5" fill="#ffffff"/>
<circle cx="211.7" cy="492.3" r="2.5" fill="#ffffff"/>
<circle cx="218.5" cy="509.4" r="2.5" fill="#ffffff"/>
<circle cx="225.5" cy="509.4" r="2.5" fill="#ffffff"/>
<circle cx="232.3" cy="509.4" r="2.5" fill="#ffffff"/>
<circle cx="239.5" cy="509.4" r="2.5" fill="#ffffff"/>
<circle cx="170.4" cy="489.2" r="2.5" fill="#c8c8c8"/>
<circle cx="198.5" cy="489.2" r="2.5" fill="#c8c8c8"/>
<circle cx="211.7" cy="489.2" r="2.5" fill="#c8c8c8"/>
<circle cx="218.5" cy="500.0" r="2.5" fill="#c8c8c8"/>
<circle cx="225.5" cy="500.0" r="2.5" fill="#c8c8c8"/>
<circle cx="239.5" cy="500.0" r="2.5" fill="#c8c8c8"/>
<circle cx="137.1" cy="504.6" r="2.5" fill="#c8c8c8"/>
<circle cx="245.5" cy="500.0" r="2.5" fill="#c8c8c8"/>
<circle cx="143.4" cy="500.0" r="2.5" fill="#909090"/>
<circle cx="198.5" cy="485.0" r="2.5" fill="#909090"/>
<circle cx="211.7" cy="485.0" r="2.5" fill="#909090"/>
<circle cx="177.5" cy="489.2" r="2.5" fill="#909090"/>
<circle cx="232.3" cy="500.0" r="2.5" fill="#909090"/>
<circle cx="239.5" cy="494.0" r="2.5" fill="#909090"/>
<circle cx="184.5" cy="503.4" r="2.5" fill="#909090"/>
<circle cx="143.4" cy="480.9" r="2.5" fill="#555555"/>
<circle cx="150.4" cy="492.3" r="2.5" fill="#555555"/>
<circle cx="157.2" cy="492.3" r="2.5" fill="#555555"/>
<circle cx="164.0" cy="492.3" r="2.5" fill="#555555"/>
<circle cx="184.5" cy="500.0" r="2.5" fill="#555555"/>
<circle cx="191.4" cy="489.2" r="2.5" fill="#555555"/>
<circle cx="218.5" cy="489.2" r="2.5" fill="#555555"/>
<circle cx="225.5" cy="493.2" r="2.5" fill="#555555"/>
<circle cx="232.3" cy="494.0" r="2.5" fill="#555555"/>
<circle cx="211.7" cy="480.9" r="2.5" fill="#555555"/>
<circle cx="198.5" cy="467.9" r="2.5" fill="#555555"/>
<circle cx="191.4" cy="456.5" r="2.5" fill="#000000"/>
<circle cx="198.5" cy="464.1" r="2.5" fill="#000000"/>
<circle cx="204.5" cy="467.9" r="2.5" fill="#000000"/>
<circle cx="211.7" cy="470.5" r="2.5" fill="#000000"/>
<circle cx="218.5" cy="480.9" r="2.5" fill="#000000"/>
<circle cx="225.5" cy="485.0" r="2.5" fill="#000000"/>
<circle cx="232.3" cy="489.2" r="2.5" fill="#000000"/>
<circle cx="239.5" cy="480.9" r="2.5" fill="#000000"/>
<circle cx="245.5" cy="476.1" r="2.5" fill="#000000"/>
<circle cx="184.5" cy="489.2" r="2.5" fill="#000000"/>
<circle cx="137.1" cy="475.6" r="2.6" fill="#b22222"/>
<circle cx="143.4" cy="475.6" r="2.6" fill="#b22222"/>
<circle cx="150.4" cy="458.2" r="2.6" fill="#b22222"/>
<circle cx="157.2" cy="458.2" r="2.6" fill="#b22222"/>
<circle cx="164.0" cy="459.9" r="2.6" fill="#b22222"/>
<circle cx="170.4" cy="451.7" r="2.6" fill="#b22222"/>
<circle cx="177.5" cy="449.6" r="2.6" fill="#b22222"/>
<circle cx="184.5" cy="449.6" r="2.6" fill="#b22222"/>
<circle cx="191.4" cy="449.6" r="2.6" fill="#b22222"/>
<circle cx="198.5" cy="451.3" r="2.6" fill="#b22222"/>
<circle cx="204.5" cy="449.3" r="2.6" fill="#b22222"/>
<circle cx="211.7" cy="449.6" r="2.6" fill="#b22222"/>
<circle cx="218.5" cy="449.6" r="2.6" fill="#b22222"/>
<circle cx="225.5" cy="449.6" r="2.6" fill="#b22222"/>
<circle cx="232.3" cy="449.6" r="2.6" fill="#b22222"/>
<circle cx="239.5" cy="449.6" r="2.6" fill="#b22222"/>
<circle cx="245.5" cy="449.6" r="2.6" fill="#b22222"/>
<polyline points="135.7,471.0 142.2,471.0 147.3,466.7 154.1,464.1 163.5,463.3 178.9,463.3 184.5,466.7 191.4,470.1 198.5,471.0 205.4,471.0 212.2,472.7 219.0,474.4 225.9,474.4 232.7,473.5 239.5,471.0 245.5,470.1" fill="none" stroke="#ff9900" stroke-width="2" stroke-linejoin="round"/>
</g>
<rect x="135.6" y="57.2" width="109.9" height="77.1" fill="none" stroke="#000" stroke-width="1.1"/>
<rect x="135.6" y="143.7" width="109.9" height="76.4" fill="none" stroke="#000" stroke-width="1.1"/>
<rect x="135.6" y="229.4" width="109.9" height="76.9" fill="none" stroke="#000" stroke-width="1.1"/>
<rect x="135.6" y="315.4" width="109.9" height="76.1" fill="none" stroke="#000" stroke-width="1.1"/>
<rect x="135.6" y="398.2" width="109.9" height="31.9" fill="none" stroke="#000" stroke-width="1.1"/>
<rect x="135.6" y="436.2" width="109.9" height="77.8" fill="none" stroke="#000" stroke-width="1.1"/>
<rect x="135.6" y="523.5" width="109.9" height="76.9" fill="none" stroke="#000" stroke-width="1.1"/>
<polyline points="68.3,16.5 133.3,16.5 156.1,43.5" fill="none" stroke="#000" stroke-width="1"/>
<polyline points="102.4,43.5 118.0,43.5 149.3,83.5" fill="none" stroke="#a52a2a" stroke-width="1"/>
<polyline points="91.7,76.5 115.1,76.5" fill="none" stroke="#ff0000" stroke-width="1"/>
<polyline points="129.8,76.5 133.0,77.5 160.0,105.5" fill="none" stroke="#ff0000" stroke-width="1"/>
<polyline points="70.2,99.5 132.7,99.5 137.0,101.5" fill="none" stroke="#0000ff" stroke-width="1"/>
<polyline points="95.6,120.5 130.7,120.5 140.5,113.5" fill="none" stroke="#6a5acd" stroke-width="1"/>
<polyline points="103.5,137.5 139.0,137.5 145.6,145.5" fill="none" stroke="#ff0000" stroke-width="1"/>
<polyline points="106.5,150.5 111.5,150.5" fill="none" stroke="#e8501c" stroke-width="1"/>
<polyline points="130.2,151.5 146.5,159.5" fill="none" stroke="#e8501c" stroke-width="1"/>
<polyline points="94.2,166.5 112.8,166.5" fill="none" stroke="#000" stroke-width="1"/>
<polyline points="129.2,166.5 132.0,166.5 137.1,171.5" fill="none" stroke="#000" stroke-width="1"/>
<polyline points="71.2,179.5 138.9,179.5" fill="none" stroke="#00a000" stroke-width="1"/>
<polyline points="80.0,189.5 136.6,189.5" fill="none" stroke="#00a000" stroke-width="1"/>
<polyline points="69.9,202.5 112.2,202.5" fill="none" stroke="#2040d0" stroke-width="1"/>
<polyline points="129.2,202.5 131.1,202.5 161.0,172.5" fill="none" stroke="#2040d0" stroke-width="1"/>
<polyline points="80.4,213.5 131.6,213.5 156.7,188.5" fill="none" stroke="#2040d0" stroke-width="1"/>
<polyline points="97.0,225.5 143.4,225.5 147.3,220.5" fill="none" stroke="#ff0000" stroke-width="1"/>
<polyline points="51.1,264.5 130.7,264.5 135.6,261.5" fill="none" stroke="#000" stroke-width="1"/>
<polyline points="130.2,334.5 138.8,317.5" fill="none" stroke="#ff0000" stroke-width="1"/>
<polyline points="112.5,334.5 117.0,334.5" fill="none" stroke="#ff0000" stroke-width="1"/>
<polyline points="106.9,347.5 131.1,347.5 144.8,340.5" fill="none" stroke="#ff0000" stroke-width="1"/>
<polyline points="91.7,367.5 135.6,367.5" fill="none" stroke="#0000a0" stroke-width="1.2"/>
<polyline points="85.9,410.5 141.5,410.5" fill="none" stroke="#0000a0" stroke-width="1"/>
<polyline points="100.1,429.5 132.5,429.5 184.5,448.5" fill="none" stroke="#a52a2a" stroke-width="1"/>
<polyline points="57.6,468.5 130.7,468.5 135.7,466.5 190.0,456.5" fill="none" stroke="#000" stroke-width="1"/>
<polyline points="57.6,480.5 143.4,480.5" fill="none" stroke="#404040" stroke-width="1"/>
<polyline points="57.6,490.5 130.7,490.5 143.4,500.5" fill="none" stroke="#909090" stroke-width="1"/>
<polyline points="57.6,500.5 131.7,500.5 137.6,506.5" fill="none" stroke="#d0ccc4" stroke-width="1"/>
<polyline points="54.6,510.5 135.6,510.5" fill="none" stroke="#87cefa" stroke-width="3"/>
<polyline points="54.6,510.5 135.6,510.5" fill="none" stroke="#ffffff" stroke-width="1"/>
<polyline points="67.3,527.5 128.8,527.5 137.9,515.5 172.9,464.5" fill="none" stroke="#ff8c00" stroke-width="1"/>
<polyline points="53.7,557.5 184.5,557.5" fill="none" stroke="#87cefa" stroke-width="3"/>
<polyline points="53.7,557.5 184.5,557.5" fill="none" stroke="#ffffff" stroke-width="1"/>
<polyline points="48.8,571.5 191.7,571.5" fill="none" stroke="#909090" stroke-width="1"/>
<polyline points="40.0,582.5 122.0,582.5" fill="none" stroke="#303030" stroke-width="1"/>
<polyline points="129.8,582.5 135.6,582.5" fill="none" stroke="#303030" stroke-width="1"/>
<polyline points="74.1,594.5 147.3,594.5" fill="none" stroke="#202020" stroke-width="1"/>
<polyline points="30.2,605.5 218.7,605.5 218.7,600.5" fill="none" stroke="#ffb400" stroke-width="1.6"/>
<polyline points="139.5,622.5 148.3,622.5 157.1,611.5" fill="none" stroke="#000" stroke-width="1"/>
<text x="5.4" y="18.5" font-size="11.5" fill="#000" text-anchor="start" textLength="59.5" lengthAdjust="spacingAndGlyphs" stroke="#000" stroke-width="0.18">Czas lokalny</text>
<text x="5.4" y="30.2" font-size="11.5" fill="#000" text-anchor="start" textLength="55.6" lengthAdjust="spacingAndGlyphs" stroke="#000" stroke-width="0.18">(CET/CEST)</text>
<text x="5.4" y="45.8" font-size="11.5" fill="#a52a2a" text-anchor="start" textLength="94.2" lengthAdjust="spacingAndGlyphs" stroke="#a52a2a" stroke-width="0.18">Temperatura gruntu</text>
<text x="26.8" y="56.1" font-size="11.5" fill="#a52a2a" text-anchor="start" textLength="40.0" lengthAdjust="spacingAndGlyphs" stroke="#a52a2a" stroke-width="0.18">max/min</text>
<text x="5.4" y="67.8" font-size="11.5" fill="#000" text-anchor="start" textLength="62.4" lengthAdjust="spacingAndGlyphs" stroke="#000" stroke-width="0.18">Temperatura:</text>
<text x="12.2" y="80.1" font-size="11.5" fill="#ff0000" text-anchor="start" textLength="78.1" lengthAdjust="spacingAndGlyphs" stroke="#ff0000" stroke-width="0.32">punkt środkowy</text>
<text x="26.8" y="89.9" font-size="11.5" fill="#ffdccb" text-anchor="start" textLength="40.0" lengthAdjust="spacingAndGlyphs" stroke="#ffdccb" stroke-width="0.18">max/min</text>
<text x="8.9" y="102.0" font-size="11.5" fill="#0000ff" text-anchor="start" textLength="58.9" lengthAdjust="spacingAndGlyphs" stroke="#0000ff" stroke-width="0.32">odczuwana</text>
<text x="26.8" y="111.7" font-size="11.5" fill="#b4e0ff" text-anchor="start" textLength="40.0" lengthAdjust="spacingAndGlyphs" stroke="#b4e0ff" stroke-width="0.18">max/min</text>
<text x="5.4" y="124.0" font-size="11.5" fill="#6a5acd" text-anchor="start" textLength="87.8" lengthAdjust="spacingAndGlyphs" stroke="#6a5acd" stroke-width="0.18">Temp. punktu rosy</text>
<text x="5.4" y="141.0" font-size="11.5" fill="#ff0000" text-anchor="start" textLength="95.6" lengthAdjust="spacingAndGlyphs" stroke="#ff0000" stroke-width="0.18">Opad powyżej skali</text>
<text x="5.4" y="154.6" font-size="11.5" fill="#e8501c" text-anchor="start" textLength="98.5" lengthAdjust="spacingAndGlyphs" stroke="#e8501c" stroke-width="0.18">Wilgotność względna</text>
<text x="5.4" y="169.3" font-size="11.5" fill="#000" text-anchor="start" textLength="85.8" lengthAdjust="spacingAndGlyphs" stroke="#000" stroke-width="0.18">Wystąpienie burzy</text>
<text x="5.4" y="182.9" font-size="11.5" fill="#00a000" text-anchor="start" textLength="64.4" lengthAdjust="spacingAndGlyphs" stroke="#00a000" stroke-width="0.18">Deszcz: max</text>
<text x="48.3" y="193.7" font-size="11.5" fill="#00a000" text-anchor="start" textLength="30.2" lengthAdjust="spacingAndGlyphs" stroke="#00a000" stroke-width="0.18">średni</text>
<text x="5.4" y="205.0" font-size="11.5" fill="#2040d0" text-anchor="start" textLength="30.2" lengthAdjust="spacingAndGlyphs" stroke="#2040d0" stroke-width="0.18">Śnieg:</text>
<text x="48.3" y="205.0" font-size="11.5" fill="#2040d0" text-anchor="start" textLength="20.1" lengthAdjust="spacingAndGlyphs" stroke="#2040d0" stroke-width="0.18">max</text>
<text x="48.3" y="215.7" font-size="11.5" fill="#2040d0" text-anchor="start" textLength="30.2" lengthAdjust="spacingAndGlyphs" stroke="#2040d0" stroke-width="0.18">średni</text>
<text x="5.4" y="228.2" font-size="11.5" fill="#ff0000" text-anchor="start" textLength="89.3" lengthAdjust="spacingAndGlyphs" stroke="#ff0000" stroke-width="0.18">Wystąpienie opadu</text>
<text x="5.4" y="239.9" font-size="11.5" fill="#ff0000" text-anchor="start" textLength="71.8" lengthAdjust="spacingAndGlyphs" stroke="#ff0000" stroke-width="0.18">konwekcyjnego</text>
<text x="4.4" y="266.8" font-size="11.5" fill="#000" text-anchor="start" textLength="43.5" lengthAdjust="spacingAndGlyphs" stroke="#000" stroke-width="0.18">Ciśnienie</text>
<text x="4.4" y="279.9" font-size="11.5" fill="#000" text-anchor="start" textLength="67.3" lengthAdjust="spacingAndGlyphs" stroke="#000" stroke-width="0.18">zredukowane</text>
<text x="4.4" y="293.2" font-size="11.5" fill="#000" text-anchor="start" textLength="87.8" lengthAdjust="spacingAndGlyphs" stroke="#000" stroke-width="0.18">do poziomu morza</text>
<text x="4.4" y="322.1" font-size="11.5" fill="#000" text-anchor="start" textLength="67.3" lengthAdjust="spacingAndGlyphs" stroke="#000" stroke-width="0.18">Wiatr na 10m:</text>
<text x="9.3" y="338.1" font-size="11.5" fill="#ff0000" text-anchor="start" textLength="101.4" lengthAdjust="spacingAndGlyphs" stroke="#ff0000" stroke-width="0.18">poryw powyżej skali</text>
<text x="9.3" y="351.7" font-size="11.5" fill="#ff0000" text-anchor="start" textLength="95.6" lengthAdjust="spacingAndGlyphs" stroke="#ff0000" stroke-width="0.18">max porywy wiatru</text>
<text x="9.3" y="372.1" font-size="11.5" fill="#00009a" text-anchor="start" textLength="79.4" lengthAdjust="spacingAndGlyphs" stroke="#00009a" stroke-width="0.18">prędkość wiatru</text>
<text x="9.3" y="385.2" font-size="11.5" fill="#00009a" text-anchor="start" textLength="89.3" lengthAdjust="spacingAndGlyphs" stroke="#00009a" stroke-width="0.18">w środku obszaru</text>
<text x="9.3" y="413.1" font-size="11.5" fill="#00009a" text-anchor="start" textLength="74.5" lengthAdjust="spacingAndGlyphs" stroke="#00009a" stroke-width="0.18">kierunek wiatru</text>
<text x="5.4" y="432.6" font-size="11.5" fill="#a52a2a" text-anchor="start" textLength="91.7" lengthAdjust="spacingAndGlyphs" stroke="#a52a2a" stroke-width="0.18">Wierzchołek chmur</text>
<text x="5.4" y="448.2" font-size="11.5" fill="#000" text-anchor="start" textLength="86.4" lengthAdjust="spacingAndGlyphs" stroke="#000" stroke-width="0.18">Podstawa chmur*</text>
<text x="5.4" y="458.9" font-size="11.5" fill="#000" text-anchor="start" textLength="48.2" lengthAdjust="spacingAndGlyphs" stroke="#000" stroke-width="0.18">o pokryciu</text>
<text x="10.2" y="471.6" font-size="11.5" fill="#000" text-anchor="start" textLength="44.0" lengthAdjust="spacingAndGlyphs" stroke="#000" stroke-width="0.32">&gt; 7.9 okt.</text>
<text x="10.2" y="482.7" font-size="11.5" fill="#505050" text-anchor="start" textLength="44.0" lengthAdjust="spacingAndGlyphs" stroke="#505050" stroke-width="0.18">&gt; 6.5 okt.</text>
<text x="10.2" y="493.4" font-size="11.5" fill="#a0a0a0" text-anchor="start" textLength="44.0" lengthAdjust="spacingAndGlyphs" stroke="#a0a0a0" stroke-width="0.18">&gt; 4.5 okt.</text>
<text x="10.2" y="503.5" font-size="11.5" fill="#dcd8d0" text-anchor="start" textLength="44.0" lengthAdjust="spacingAndGlyphs" stroke="#dcd8d0" stroke-width="0.18">&gt; 2.5 okt.</text>
<text x="5.4" y="529.9" font-size="11.5" fill="#ff8000" text-anchor="start" textLength="58.5" lengthAdjust="spacingAndGlyphs" stroke="#ff8000" stroke-width="0.18">Widzialność</text>
<text x="5.4" y="547.1" font-size="11.5" fill="#000" text-anchor="start" textLength="39.6" lengthAdjust="spacingAndGlyphs" stroke="#000" stroke-width="0.18">Chmury:</text>
<text x="9.3" y="572.8" font-size="11.5" fill="#a0a0a0" text-anchor="start" textLength="36.1" lengthAdjust="spacingAndGlyphs" stroke="#a0a0a0" stroke-width="0.18">średnie</text>
<text x="9.3" y="584.7" font-size="11.5" fill="#303030" text-anchor="start" textLength="27.3" lengthAdjust="spacingAndGlyphs" stroke="#303030" stroke-width="0.18">niskie</text>
<text x="9.3" y="596.6" font-size="11.5" fill="#202020" text-anchor="start" textLength="62.4" lengthAdjust="spacingAndGlyphs" stroke="#202020" stroke-width="0.18">bardzo niskie</text>
<text x="5.4" y="609.1" font-size="11.5" fill="#ffb400" text-anchor="start" textLength="21.1" lengthAdjust="spacingAndGlyphs" stroke="#ffb400" stroke-width="0.18">Mgła</text>
<text x="5.6" y="625.6" font-size="11.5" fill="#000" text-anchor="start" textLength="132.3" lengthAdjust="spacing">Czas uniwersalny (UTC)</text>
<rect x="10.7" y="505.0" width="43.9" height="11.1" fill="#87cefa" />
<text x="10.7" y="513.8" font-size="12" fill="#fff" text-anchor="start" textLength="43.5" lengthAdjust="spacingAndGlyphs" >&gt; 0.1 okt.</text>
<rect x="9.8" y="551.4" width="41.3" height="11.2" fill="#87cefa" />
<text x="11.0" y="559.6" font-size="12" fill="#fff" text-anchor="start" textLength="39.5" lengthAdjust="spacingAndGlyphs" >wysokie</text>
<text x="5.5" y="650.7" font-size="10.5" fill="#000" text-anchor="start" textLength="102.4" lengthAdjust="spacingAndGlyphs" stroke="#000" stroke-width="0.35">* powyżej poziomu morza</text>
<rect x="5.6" y="0.0" width="1.0" height="1.5" fill="#000" />
<text x="128.4" y="63.2" font-size="10.6" fill="#000" text-anchor="end" >30</text>
<text x="128.4" y="80.9" font-size="10.6" fill="#000" text-anchor="end" >20</text>
<text x="128.4" y="98.3" font-size="10.6" fill="#000" text-anchor="end" >10</text>
<text x="128.4" y="115.2" font-size="10.6" fill="#000" text-anchor="end" >0</text>
<text x="128.4" y="132.6" font-size="10.6" fill="#000" text-anchor="end" >-10</text>
<text x="128.4" y="154.0" font-size="10.6" fill="#000" text-anchor="end" >2.0</text>
<text x="128.4" y="171.2" font-size="10.6" fill="#000" text-anchor="end" >1.5</text>
<text x="128.4" y="189.2" font-size="10.6" fill="#000" text-anchor="end" >1.0</text>
<text x="128.4" y="206.7" font-size="10.6" fill="#000" text-anchor="end" >0.5</text>
<text x="128.4" y="224.3" font-size="10.6" fill="#000" text-anchor="end" >0.0</text>
<text x="128.4" y="235.0" font-size="10.6" fill="#000" text-anchor="end" >1018</text>
<text x="128.4" y="257.8" font-size="10.6" fill="#000" text-anchor="end" >1016</text>
<text x="128.4" y="281.8" font-size="10.6" fill="#000" text-anchor="end" >1014</text>
<text x="128.4" y="304.9" font-size="10.6" fill="#000" text-anchor="end" >1012</text>
<text x="128.4" y="318.9" font-size="10.6" fill="#000" text-anchor="end" >20</text>
<text x="128.4" y="338.4" font-size="10.6" fill="#000" text-anchor="end" >15</text>
<text x="128.4" y="357.9" font-size="10.6" fill="#000" text-anchor="end" >10</text>
<text x="128.4" y="377.3" font-size="10.6" fill="#000" text-anchor="end" >5</text>
<text x="128.4" y="395.5" font-size="10.6" fill="#000" text-anchor="end" >0</text>
<text x="128.4" y="439.8" font-size="10.6" fill="#000" text-anchor="end" >15.0</text>
<text x="128.4" y="459.9" font-size="10.6" fill="#000" text-anchor="end" >7.0</text>
<text x="128.4" y="479.1" font-size="10.6" fill="#000" text-anchor="end" >2.0</text>
<text x="128.4" y="499.0" font-size="10.6" fill="#000" text-anchor="end" >0.5</text>
<text x="128.4" y="517.6" font-size="10.6" fill="#000" text-anchor="end" >0.0</text>
<text x="128.4" y="526.4" font-size="10.6" fill="#000" text-anchor="end" >8</text>
<text x="128.4" y="546.8" font-size="10.6" fill="#000" text-anchor="end" >6</text>
<text x="128.4" y="565.8" font-size="10.6" fill="#000" text-anchor="end" >4</text>
<text x="128.4" y="585.9" font-size="10.6" fill="#000" text-anchor="end" >2</text>
<text x="128.4" y="604.6" font-size="10.6" fill="#000" text-anchor="end" >0</text>
<text x="266.3" y="63.2" font-size="10.6" fill="#000" text-anchor="end" >30</text>
<text x="266.3" y="80.9" font-size="10.6" fill="#000" text-anchor="end" >20</text>
<text x="266.3" y="98.3" font-size="10.6" fill="#000" text-anchor="end" >10</text>
<text x="266.3" y="115.2" font-size="10.6" fill="#000" text-anchor="end" >0</text>
<text x="266.3" y="132.6" font-size="10.6" fill="#000" text-anchor="end" >-10</text>
<text x="266.3" y="154.4" font-size="10.6" fill="#e8501c" text-anchor="end" >96</text>
<text x="266.3" y="172.2" font-size="10.6" fill="#e8501c" text-anchor="end" >84</text>
<text x="266.3" y="188.9" font-size="10.6" fill="#e8501c" text-anchor="end" >73</text>
<text x="266.3" y="206.8" font-size="10.6" fill="#e8501c" text-anchor="end" >61</text>
<text x="266.3" y="223.0" font-size="10.6" fill="#e8501c" text-anchor="end" >50</text>
<text x="274.5" y="235.0" font-size="10.6" fill="#000" text-anchor="end" >1018</text>
<text x="274.5" y="257.8" font-size="10.6" fill="#000" text-anchor="end" >1016</text>
<text x="274.5" y="281.8" font-size="10.6" fill="#000" text-anchor="end" >1014</text>
<text x="274.5" y="304.9" font-size="10.6" fill="#000" text-anchor="end" >1012</text>
<text x="262.5" y="318.9" font-size="10.6" fill="#000" text-anchor="end" >72</text>
<text x="262.5" y="338.4" font-size="10.6" fill="#000" text-anchor="end" >54</text>
<text x="262.5" y="357.9" font-size="10.6" fill="#000" text-anchor="end" >36</text>
<text x="262.5" y="377.3" font-size="10.6" fill="#000" text-anchor="end" >18</text>
<text x="259.5" y="395.5" font-size="10.6" fill="#000" text-anchor="end" >0</text>
<text x="251.0" y="439.8" font-size="10.6" fill="#ff8000" text-anchor="start" >100</text>
<text x="251.0" y="459.9" font-size="10.6" fill="#ff8000" text-anchor="start" >20</text>
<text x="251.0" y="479.1" font-size="10.6" fill="#ff8000" text-anchor="start" >5</text>
<text x="251.0" y="499.0" font-size="10.6" fill="#ff8000" text-anchor="start" >1</text>
<text x="251.0" y="517.6" font-size="10.6" fill="#ff8000" text-anchor="start" >0</text>
<text x="251.0" y="526.4" font-size="10.6" fill="#ff8000" text-anchor="start" >1</text>
<text x="251.0" y="546.8" font-size="10.6" fill="#ff8000" text-anchor="start" >0.75</text>
<text x="251.0" y="565.8" font-size="10.6" fill="#ff8000" text-anchor="start" >0.5</text>
<text x="251.0" y="585.9" font-size="10.6" fill="#ff8000" text-anchor="start" >0.25</text>
<text x="251.0" y="604.6" font-size="10.6" fill="#ff8000" text-anchor="start" >0</text>
<text x="164.0" y="51.9" font-size="11.5" fill="#000" text-anchor="middle" >20</text>
<text x="204.3" y="51.9" font-size="11.5" fill="#000" text-anchor="middle" >02</text>
<text x="244.8" y="51.9" font-size="11.5" fill="#000" text-anchor="middle" >08</text>
<text x="164.0" y="614.3" font-size="11.5" fill="#000" text-anchor="middle" >18</text>
<text x="204.0" y="614.3" font-size="11.5" fill="#000" text-anchor="middle" >00</text>
<text x="245.0" y="614.3" font-size="11.5" fill="#000" text-anchor="middle" >06</text>
<text x="355.5" y="12.6" font-size="12.3" fill="#00009a" text-anchor="middle" textLength="147.3" lengthAdjust="spacingAndGlyphs" >wschód słońca: 07:46 CET</text>
<text x="354.8" y="25.9" font-size="12.3" fill="#00009a" text-anchor="middle" textLength="143.5" lengthAdjust="spacingAndGlyphs" >zachód słońca: 15:10 CET</text>
<text x="550.7" y="12.7" font-size="12.3" fill="#00009a" text-anchor="middle" textLength="128.8" lengthAdjust="spacingAndGlyphs" >21°43'31"E, 53°59'46"N</text>
<text x="550.4" y="25.0" font-size="12.3" fill="#00009a" text-anchor="middle" textLength="83.2" lengthAdjust="spacingAndGlyphs" >(x=261,  y=355)</text>
<text x="738.0" y="12.7" font-size="12.3" fill="#00009a" text-anchor="middle" textLength="159.0" lengthAdjust="spacingAndGlyphs" >wysokość (min, środek, max)</text>
<text x="738.5" y="25.6" font-size="12.3" fill="#00009a" text-anchor="middle" textLength="96.6" lengthAdjust="spacingAndGlyphs" >121 - 141 - 157 m</text>
<text x="377.5" y="41.8" font-size="12.5" fill="#000" text-anchor="middle" textLength="60.5" lengthAdjust="spacingAndGlyphs" >wto, 16.12</text>
<text x="545.9" y="41.9" font-size="12.5" fill="#000" text-anchor="middle" textLength="58.1" lengthAdjust="spacingAndGlyphs" >śro, 17.12</text>
<text x="715.7" y="41.9" font-size="12.5" fill="#000" text-anchor="middle" textLength="63.2" lengthAdjust="spacingAndGlyphs" >czw, 18.12</text>
<text x="356.0" y="53.9" font-size="12.5" fill="#000" text-anchor="middle" >10</text>
<text x="398.2" y="53.9" font-size="12.5" fill="#000" text-anchor="middle" >16</text>
<text x="440.4" y="53.9" font-size="12.5" fill="#000" text-anchor="middle" >22</text>
<text x="482.6" y="53.9" font-size="12.5" fill="#000" text-anchor="middle" >04</text>
<text x="524.9" y="53.9" font-size="12.5" fill="#000" text-anchor="middle" >10</text>
<text x="567.1" y="53.9" font-size="12.5" fill="#000" text-anchor="middle" >16</text>
<text x="609.3" y="53.9" font-size="12.5" fill="#000" text-anchor="middle" >22</text>
<text x="651.5" y="53.9" font-size="12.5" fill="#000" text-anchor="middle" >04</text>
<text x="693.8" y="53.9" font-size="12.5" fill="#000" text-anchor="middle" >10</text>
<text x="736.0" y="53.9" font-size="12.5" fill="#000" text-anchor="middle" >16</text>
<text x="356.3" y="616.3" font-size="12.5" fill="#000" text-anchor="middle" >09</text>
<text x="398.5" y="616.3" font-size="12.5" fill="#000" text-anchor="middle" >15</text>
<text x="440.7" y="616.3" font-size="12.5" fill="#000" text-anchor="middle" >21</text>
<text x="482.9" y="616.3" font-size="12.5" fill="#000" text-anchor="middle" >03</text>
<text x="525.2" y="616.3" font-size="12.5" fill="#000" text-anchor="middle" >09</text>
<text x="567.4" y="616.3" font-size="12.5" fill="#000" text-anchor="middle" >15</text>
<text x="609.6" y="616.3" font-size="12.5" fill="#000" text-anchor="middle" >21</text>
<text x="651.8" y="616.3" font-size="12.5" fill="#000" text-anchor="middle" >03</text>
<text x="694.1" y="616.3" font-size="12.5" fill="#000" text-anchor="middle" >09</text>
<text x="736.3" y="616.3" font-size="12.5" fill="#000" text-anchor="middle" >15</text>
<text x="377.8" y="629.4" font-size="12.5" fill="#000" text-anchor="middle" >16.12</text>
<text x="546.1" y="629.4" font-size="12.5" fill="#000" text-anchor="middle" >17.12</text>
<text x="715.1" y="629.4" font-size="12.5" fill="#000" text-anchor="middle" >18.12</text>
<text x="306.3" y="54.1" font-size="12.5" fill="#000" text-anchor="start" textLength="25.2" lengthAdjust="spacingAndGlyphs" >CET</text>
<text x="769.0" y="54.1" font-size="12.5" fill="#000" text-anchor="start" textLength="25.2" lengthAdjust="spacingAndGlyphs" >CET</text>
<text x="306.3" y="616.4" font-size="12.5" fill="#000" text-anchor="start" textLength="24.0" lengthAdjust="spacingAndGlyphs" >UTC</text>
<text x="769.0" y="616.4" font-size="12.5" fill="#000" text-anchor="start" textLength="24.0" lengthAdjust="spacingAndGlyphs" >UTC</text>
<text x="300.4" y="652.5" font-size="13" fill="#00009a" text-anchor="start" textLength="110.0" lengthAdjust="spacingAndGlyphs" >meteo@icm.edu.pl</text>
<text x="553.6" y="652.4" font-size="13" fill="#00009a" text-anchor="start" textLength="252.0" lengthAdjust="spacingAndGlyphs" >© 2007-2025 ICM, Uniwersytet Warszawski</text>
<text x="337.6" y="75.0" font-size="11" fill="#000" text-anchor="end" >2</text>
<text x="337.6" y="89.8" font-size="11" fill="#000" text-anchor="end" >0</text>
<text x="337.6" y="104.7" font-size="11" fill="#000" text-anchor="end" >-2</text>
<text x="337.6" y="119.2" font-size="11" fill="#000" text-anchor="end" >-4</text>
<text x="337.6" y="134.0" font-size="11" fill="#000" text-anchor="end" >-6</text>
<text x="337.6" y="151.1" font-size="11" fill="#000" text-anchor="end" >5</text>
<text x="337.6" y="166.2" font-size="11" fill="#000" text-anchor="end" >4</text>
<text x="337.6" y="181.1" font-size="11" fill="#000" text-anchor="end" >3</text>
<text x="337.6" y="196.1" font-size="11" fill="#000" text-anchor="end" >2</text>
<text x="337.6" y="211.1" font-size="11" fill="#000" text-anchor="end" >1</text>
<text x="337.6" y="226.0" font-size="11" fill="#000" text-anchor="end" >0</text>
<text x="337.6" y="247.4" font-size="11" fill="#000" text-anchor="end" >1025</text>
<text x="337.6" y="267.4" font-size="11" fill="#000" text-anchor="end" >1020</text>
<text x="337.6" y="288.1" font-size="11" fill="#000" text-anchor="end" >1015</text>
<text x="337.6" y="308.8" font-size="11" fill="#000" text-anchor="end" >1010</text>
<text x="337.6" y="323.3" font-size="11" fill="#000" text-anchor="end" >15</text>
<text x="337.6" y="348.3" font-size="11" fill="#000" text-anchor="end" >10</text>
<text x="337.6" y="374.2" font-size="11" fill="#000" text-anchor="end" >5</text>
<text x="337.6" y="398.9" font-size="11" fill="#000" text-anchor="end" >0</text>
<text x="337.6" y="442.3" font-size="11" fill="#000" text-anchor="end" >15.0</text>
<text x="337.6" y="462.0" font-size="11" fill="#000" text-anchor="end" >7.0</text>
<text x="337.6" y="481.6" font-size="11" fill="#000" text-anchor="end" >2.0</text>
<text x="337.6" y="501.3" font-size="11" fill="#000" text-anchor="end" >0.5</text>
<text x="337.6" y="520.4" font-size="11" fill="#000" text-anchor="end" >0.0</text>
<text x="337.6" y="530.3" font-size="11" fill="#000" text-anchor="end" >8</text>
<text x="337.6" y="549.6" font-size="11" fill="#000" text-anchor="end" >6</text>
<text x="337.6" y="569.4" font-size="11" fill="#000" text-anchor="end" >4</text>
<text x="337.6" y="588.3" font-size="11" fill="#000" text-anchor="end" >2</text>
<text x="337.6" y="608.0" font-size="11" fill="#000" text-anchor="end" >0</text>
<text x="764.2" y="75.0" font-size="11" fill="#000" text-anchor="start" >2</text>
<text x="764.2" y="89.8" font-size="11" fill="#000" text-anchor="start" >0</text>
<text x="761.8" y="104.7" font-size="11" fill="#000" text-anchor="start" >-2</text>
<text x="761.8" y="119.2" font-size="11" fill="#000" text-anchor="start" >-4</text>
<text x="761.8" y="134.0" font-size="11" fill="#000" text-anchor="start" >-6</text>
<text x="761.8" y="151.1" font-size="11" fill="#e8501c" text-anchor="start" >100</text>
<text x="764.8" y="166.2" font-size="11" fill="#e8501c" text-anchor="start" >95</text>
<text x="764.8" y="181.1" font-size="11" fill="#e8501c" text-anchor="start" >90</text>
<text x="764.8" y="196.1" font-size="11" fill="#e8501c" text-anchor="start" >85</text>
<text x="764.8" y="211.1" font-size="11" fill="#e8501c" text-anchor="start" >80</text>
<text x="764.8" y="226.1" font-size="11" fill="#e8501c" text-anchor="start" >75</text>
<text x="761.9" y="247.0" font-size="11" fill="#000" text-anchor="start" >769</text>
<text x="761.9" y="267.0" font-size="11" fill="#000" text-anchor="start" >765</text>
<text x="761.9" y="287.9" font-size="11" fill="#000" text-anchor="start" >761</text>
<text x="761.9" y="308.8" font-size="11" fill="#000" text-anchor="start" >758</text>
<text x="761.9" y="323.4" font-size="11" fill="#000" text-anchor="start" >54</text>
<text x="761.9" y="348.2" font-size="11" fill="#000" text-anchor="start" >36</text>
<text x="761.9" y="374.2" font-size="11" fill="#000" text-anchor="start" >18</text>
<text x="764.6" y="398.9" font-size="11" fill="#000" text-anchor="start" >0</text>
<text x="761.9" y="442.3" font-size="11" fill="#ff8000" text-anchor="start" >100</text>
<text x="761.9" y="462.0" font-size="11" fill="#ff8000" text-anchor="start" >20</text>
<text x="761.9" y="480.9" font-size="11" fill="#ff8000" text-anchor="start" >5</text>
<text x="761.9" y="500.8" font-size="11" fill="#ff8000" text-anchor="start" >1</text>
<text x="761.9" y="520.4" font-size="11" fill="#ff8000" text-anchor="start" >0</text>
<text x="761.9" y="530.3" font-size="11" fill="#ff8000" text-anchor="start" >1</text>
<text x="761.9" y="549.3" font-size="11" fill="#ff8000" text-anchor="start" >0.75</text>
<text x="761.9" y="569.2" font-size="11" fill="#ff8000" text-anchor="start" >0.5</text>
<text x="761.9" y="588.0" font-size="11" fill="#ff8000" text-anchor="start" >0.25</text>
<text x="761.9" y="608.0" font-size="11" fill="#ff8000" text-anchor="start" >0</text>
<text transform="translate(293.0 96.4) rotate(-90)" font-size="12" fill="#00009a" text-anchor="middle" textLength="66.5" lengthAdjust="spacingAndGlyphs">temperatura</text>
<text transform="translate(305.8 96.4) rotate(-90)" font-size="12" fill="#00009a" text-anchor="middle" textLength="21.0" lengthAdjust="spacingAndGlyphs">(°C)</text>
<text transform="translate(292.8 185.0) rotate(-90)" font-size="12" fill="#2020c8" text-anchor="middle" textLength="26.5" lengthAdjust="spacingAndGlyphs">opad</text>
<text transform="translate(305.8 185.0) rotate(-90)" font-size="12" fill="#2020c8" text-anchor="middle" textLength="85.5" lengthAdjust="spacingAndGlyphs">(mm/h, kg/m²/h)</text>
<text transform="translate(293.0 272.8) rotate(-90)" font-size="12" fill="#00009a" text-anchor="middle" textLength="49.0" lengthAdjust="spacingAndGlyphs">ciśnienie</text>
<text transform="translate(305.8 273.1) rotate(-90)" font-size="12" fill="#00009a" text-anchor="middle" textLength="28.5" lengthAdjust="spacingAndGlyphs">(hPa)</text>
<text transform="translate(293.0 361.1) rotate(-90)" font-size="12" fill="#00009a" text-anchor="middle" textLength="25.5" lengthAdjust="spacingAndGlyphs">wiatr</text>
<text transform="translate(305.8 361.5) rotate(-90)" font-size="12" fill="#00009a" text-anchor="middle" textLength="27.8" lengthAdjust="spacingAndGlyphs">(m/s)</text>
<text transform="translate(293.0 475.0) rotate(-90)" font-size="12" fill="#00009a" text-anchor="middle" textLength="101.5" lengthAdjust="spacingAndGlyphs">pion. rozciągł. chm.</text>
<text transform="translate(305.8 474.2) rotate(-90)" font-size="12" fill="#00009a" text-anchor="middle" textLength="24.0" lengthAdjust="spacingAndGlyphs">(km)</text>
<text transform="translate(293.0 572.5) rotate(-90)" font-size="12" fill="#00009a" text-anchor="middle" textLength="75.0" lengthAdjust="spacingAndGlyphs">zachmurzenie</text>
<text transform="translate(305.8 562.8) rotate(-90)" font-size="12" fill="#00009a" text-anchor="middle" textLength="45.0" lengthAdjust="spacingAndGlyphs">(oktanty)</text>
<text transform="translate(803.2 96.4) rotate(-90)" font-size="12" fill="#00009a" text-anchor="middle" textLength="21.0" lengthAdjust="spacingAndGlyphs">(°C)</text>
<text transform="translate(816.3 96.4) rotate(-90)" font-size="12" fill="#00009a" text-anchor="middle" textLength="66.5" lengthAdjust="spacingAndGlyphs">temperatura</text>
<text transform="translate(803.2 185.4) rotate(-90)" font-size="12" fill="#00009a" text-anchor="middle" textLength="18.0" lengthAdjust="spacingAndGlyphs">(%)</text>
<text transform="translate(816.3 185.4) rotate(-90)" font-size="12" fill="#00009a" text-anchor="middle" textLength="89.2" lengthAdjust="spacingAndGlyphs">wilgotność wzgl.</text>
<text transform="translate(803.2 273.1) rotate(-90)" font-size="12" fill="#00009a" text-anchor="middle" textLength="48.2" lengthAdjust="spacingAndGlyphs">(mm Hg)</text>
<text transform="translate(816.3 272.8) rotate(-90)" font-size="12" fill="#00009a" text-anchor="middle" textLength="49.0" lengthAdjust="spacingAndGlyphs">ciśnienie</text>
<text transform="translate(803.2 361.5) rotate(-90)" font-size="12" fill="#00009a" text-anchor="middle" textLength="34.0" lengthAdjust="spacingAndGlyphs">(km/h)</text>
<text transform="translate(816.3 361.1) rotate(-90)" font-size="12" fill="#00009a" text-anchor="middle" textLength="25.5" lengthAdjust="spacingAndGlyphs">wiatr</text>
<text transform="translate(803.2 474.0) rotate(-90)" font-size="12" fill="#00009a" text-anchor="middle" textLength="24.0" lengthAdjust="spacingAndGlyphs">(km)</text>
<text transform="translate(816.3 475.0) rotate(-90)" font-size="12" fill="#00009a" text-anchor="middle" textLength="63.5" lengthAdjust="spacingAndGlyphs">widzialność</text>
<text transform="translate(803.2 562.5) rotate(-90)" font-size="12" fill="#00009a" text-anchor="middle" textLength="42.5" lengthAdjust="spacingAndGlyphs">(frakcja)</text>
<text transform="translate(816.3 562.5) rotate(-90)" font-size="12" fill="#00009a" text-anchor="middle" textLength="26.0" lengthAdjust="spacingAndGlyphs">mgła</text>
<text x="294.8" y="411.2" font-size="11.2" fill="#00009a" text-anchor="start" >N</text>
<text x="283.8" y="419.5" font-size="11.2" fill="#00009a" text-anchor="start" >W</text>
<text x="302.0" y="419.5" font-size="11.2" fill="#00009a" text-anchor="start" >E</text>
<text x="294.6" y="427.9" font-size="11.2" fill="#00009a" text-anchor="start" >S</text>
<text x="804.0" y="411.2" font-size="11.2" fill="#00009a" text-anchor="start" >N</text>
<text x="793.0" y="419.5" font-size="11.2" fill="#00009a" text-anchor="start" >W</text>
<text x="811.2" y="419.5" font-size="11.2" fill="#00009a" text-anchor="start" >E</text>
<text x="803.8" y="427.9" font-size="11.2" fill="#00009a" text-anchor="start" >S</text>
</svg>
</body></html>
